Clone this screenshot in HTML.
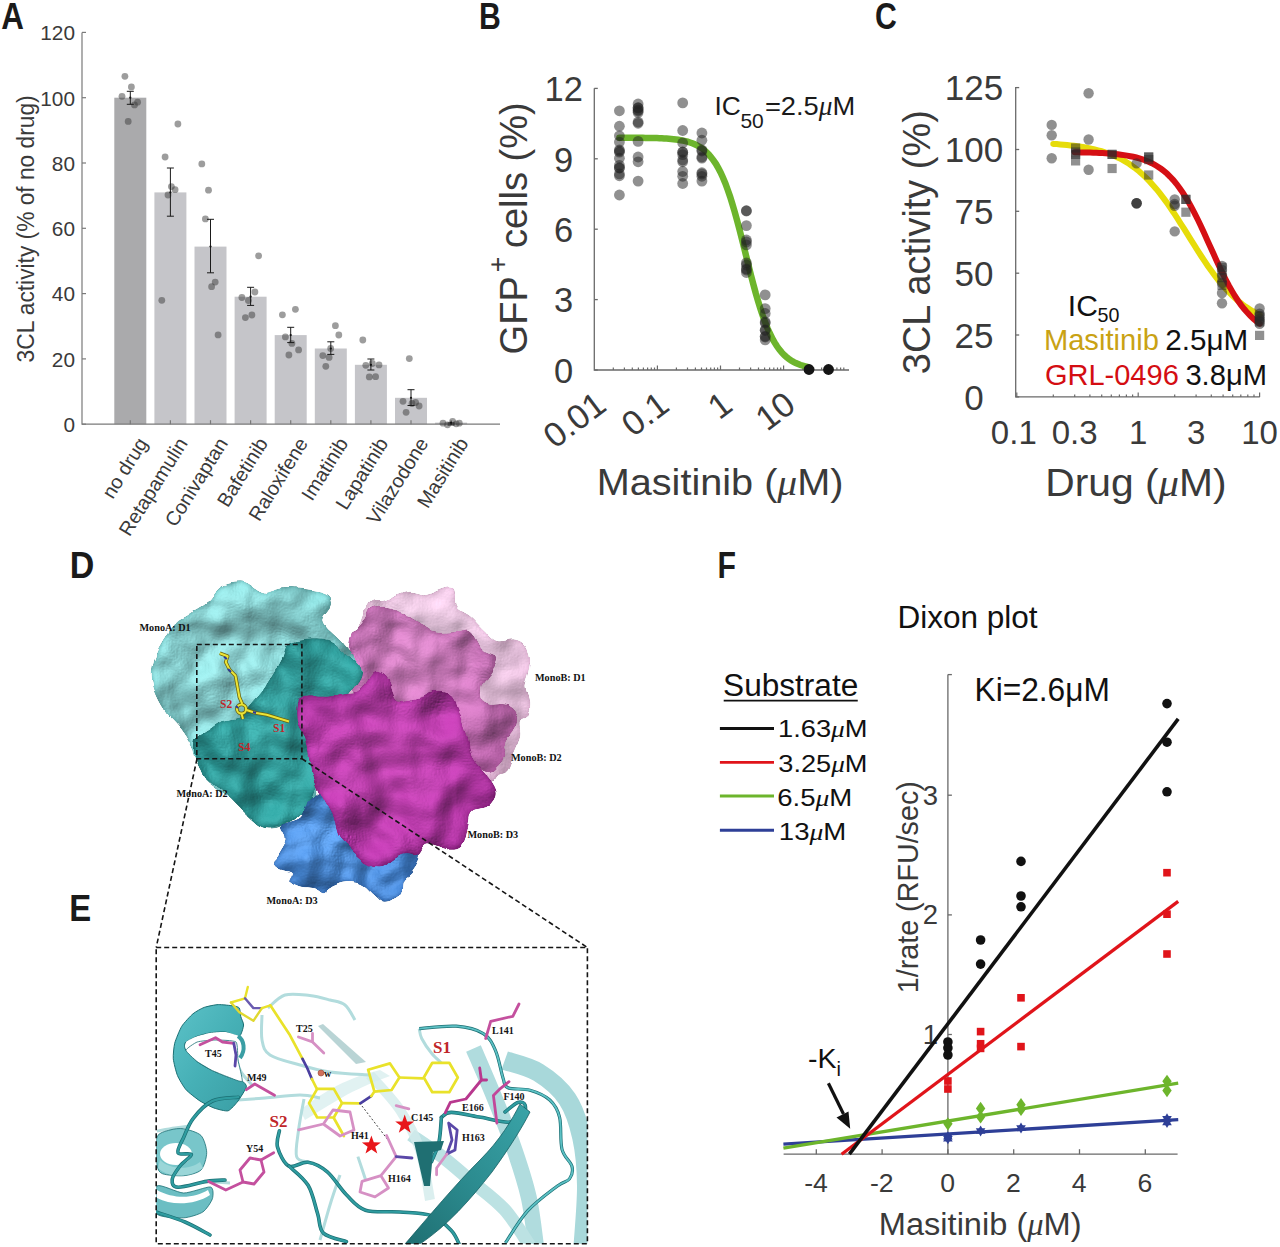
<!DOCTYPE html>
<html><head><meta charset="utf-8"><style>
html,body{margin:0;padding:0;background:#fff;width:1280px;height:1247px;overflow:hidden}
svg{display:block;font-family:"Liberation Sans",sans-serif}
</style></head><body>
<svg width="1280" height="1247" viewBox="0 0 1280 1247">
<rect x="114.3" y="97.7" width="32" height="326.5" fill="#aaaaac"/>
<rect x="154.4" y="192.4" width="32" height="231.8" fill="#c5c5c9"/>
<rect x="194.5" y="246.6" width="32" height="177.6" fill="#c5c5c9"/>
<rect x="234.6" y="296.7" width="32" height="127.5" fill="#c5c5c9"/>
<rect x="274.7" y="335.1" width="32" height="89.1" fill="#c5c5c9"/>
<rect x="314.8" y="348.5" width="32" height="75.7" fill="#c5c5c9"/>
<rect x="354.9" y="364.8" width="32" height="59.4" fill="#c5c5c9"/>
<rect x="395.0" y="397.8" width="32" height="26.4" fill="#c5c5c9"/>
<rect x="435.1" y="422.6" width="32" height="1.6" fill="#c5c5c9"/>
<path d="M82,32.5 V424.2 H500" stroke="#7a7a7a" stroke-width="1.2" fill="none"/>
<path d="M82,424.2 H86" stroke="#7a7a7a" stroke-width="1.2"/>
<text x="75" y="432.0" text-anchor="end" font-size="20.8" fill="#3a3a3a">0</text>
<path d="M82,358.9 H86" stroke="#7a7a7a" stroke-width="1.2"/>
<text x="75" y="366.7" text-anchor="end" font-size="20.8" fill="#3a3a3a">20</text>
<path d="M82,293.6 H86" stroke="#7a7a7a" stroke-width="1.2"/>
<text x="75" y="301.4" text-anchor="end" font-size="20.8" fill="#3a3a3a">40</text>
<path d="M82,228.3 H86" stroke="#7a7a7a" stroke-width="1.2"/>
<text x="75" y="236.1" text-anchor="end" font-size="20.8" fill="#3a3a3a">60</text>
<path d="M82,163.0 H86" stroke="#7a7a7a" stroke-width="1.2"/>
<text x="75" y="170.8" text-anchor="end" font-size="20.8" fill="#3a3a3a">80</text>
<path d="M82,97.7 H86" stroke="#7a7a7a" stroke-width="1.2"/>
<text x="75" y="105.5" text-anchor="end" font-size="20.8" fill="#3a3a3a">100</text>
<path d="M82,32.4 H86" stroke="#7a7a7a" stroke-width="1.2"/>
<text x="75" y="40.2" text-anchor="end" font-size="20.8" fill="#3a3a3a">120</text>
<path d="M130.3,424.2 V420.2" stroke="#7a7a7a" stroke-width="1.2"/>
<path d="M170.4,424.2 V420.2" stroke="#7a7a7a" stroke-width="1.2"/>
<path d="M210.5,424.2 V420.2" stroke="#7a7a7a" stroke-width="1.2"/>
<path d="M250.6,424.2 V420.2" stroke="#7a7a7a" stroke-width="1.2"/>
<path d="M290.7,424.2 V420.2" stroke="#7a7a7a" stroke-width="1.2"/>
<path d="M330.8,424.2 V420.2" stroke="#7a7a7a" stroke-width="1.2"/>
<path d="M370.9,424.2 V420.2" stroke="#7a7a7a" stroke-width="1.2"/>
<path d="M411.0,424.2 V420.2" stroke="#7a7a7a" stroke-width="1.2"/>
<path d="M451.1,424.2 V420.2" stroke="#7a7a7a" stroke-width="1.2"/>
<circle cx="124.9" cy="76.3" r="3.4" fill="#3c3c3c" fill-opacity="0.5"/>
<circle cx="131.4" cy="86.9" r="3.4" fill="#3c3c3c" fill-opacity="0.5"/>
<circle cx="122" cy="96.3" r="3.4" fill="#3c3c3c" fill-opacity="0.5"/>
<circle cx="137.6" cy="102.2" r="3.4" fill="#3c3c3c" fill-opacity="0.5"/>
<circle cx="134.5" cy="104.9" r="3.4" fill="#3c3c3c" fill-opacity="0.5"/>
<circle cx="128.2" cy="121.4" r="3.4" fill="#3c3c3c" fill-opacity="0.5"/>
<circle cx="177.9" cy="124" r="3.4" fill="#3c3c3c" fill-opacity="0.5"/>
<circle cx="165.1" cy="157" r="3.4" fill="#3c3c3c" fill-opacity="0.5"/>
<circle cx="171.4" cy="186.6" r="3.4" fill="#3c3c3c" fill-opacity="0.5"/>
<circle cx="175.1" cy="189.7" r="3.4" fill="#3c3c3c" fill-opacity="0.5"/>
<circle cx="168" cy="195" r="3.4" fill="#3c3c3c" fill-opacity="0.5"/>
<circle cx="161.8" cy="300.3" r="3.4" fill="#3c3c3c" fill-opacity="0.5"/>
<circle cx="201.8" cy="163.9" r="3.4" fill="#3c3c3c" fill-opacity="0.5"/>
<circle cx="208.5" cy="190.2" r="3.4" fill="#3c3c3c" fill-opacity="0.5"/>
<circle cx="205.4" cy="218.9" r="3.4" fill="#3c3c3c" fill-opacity="0.5"/>
<circle cx="215.2" cy="282.1" r="3.4" fill="#3c3c3c" fill-opacity="0.5"/>
<circle cx="211.6" cy="286.7" r="3.4" fill="#3c3c3c" fill-opacity="0.5"/>
<circle cx="218.1" cy="334.9" r="3.4" fill="#3c3c3c" fill-opacity="0.5"/>
<circle cx="258.6" cy="255.8" r="3.4" fill="#3c3c3c" fill-opacity="0.5"/>
<circle cx="254.9" cy="292" r="3.4" fill="#3c3c3c" fill-opacity="0.5"/>
<circle cx="241.9" cy="297.5" r="3.4" fill="#3c3c3c" fill-opacity="0.5"/>
<circle cx="248.4" cy="300.5" r="3.4" fill="#3c3c3c" fill-opacity="0.5"/>
<circle cx="245.4" cy="317.6" r="3.4" fill="#3c3c3c" fill-opacity="0.5"/>
<circle cx="251.9" cy="315" r="3.4" fill="#3c3c3c" fill-opacity="0.5"/>
<circle cx="282.4" cy="314.8" r="3.4" fill="#3c3c3c" fill-opacity="0.5"/>
<circle cx="295.4" cy="309.3" r="3.4" fill="#3c3c3c" fill-opacity="0.5"/>
<circle cx="285.4" cy="336.9" r="3.4" fill="#3c3c3c" fill-opacity="0.5"/>
<circle cx="291.9" cy="343.4" r="3.4" fill="#3c3c3c" fill-opacity="0.5"/>
<circle cx="298.6" cy="349.9" r="3.4" fill="#3c3c3c" fill-opacity="0.5"/>
<circle cx="288.9" cy="355" r="3.4" fill="#3c3c3c" fill-opacity="0.5"/>
<circle cx="335.4" cy="325.7" r="3.4" fill="#3c3c3c" fill-opacity="0.5"/>
<circle cx="338.8" cy="335" r="3.4" fill="#3c3c3c" fill-opacity="0.5"/>
<circle cx="330.7" cy="348.5" r="3.4" fill="#3c3c3c" fill-opacity="0.5"/>
<circle cx="322.8" cy="355.6" r="3.4" fill="#3c3c3c" fill-opacity="0.5"/>
<circle cx="329.1" cy="357.4" r="3.4" fill="#3c3c3c" fill-opacity="0.5"/>
<circle cx="325.8" cy="366.3" r="3.4" fill="#3c3c3c" fill-opacity="0.5"/>
<circle cx="362.8" cy="340" r="3.4" fill="#3c3c3c" fill-opacity="0.5"/>
<circle cx="365.8" cy="365.3" r="3.4" fill="#3c3c3c" fill-opacity="0.5"/>
<circle cx="372.3" cy="363.5" r="3.4" fill="#3c3c3c" fill-opacity="0.5"/>
<circle cx="379" cy="364.9" r="3.4" fill="#3c3c3c" fill-opacity="0.5"/>
<circle cx="369.3" cy="376.9" r="3.4" fill="#3c3c3c" fill-opacity="0.5"/>
<circle cx="375.6" cy="376.7" r="3.4" fill="#3c3c3c" fill-opacity="0.5"/>
<circle cx="409.3" cy="358.6" r="3.4" fill="#3c3c3c" fill-opacity="0.5"/>
<circle cx="403" cy="401.3" r="3.4" fill="#3c3c3c" fill-opacity="0.5"/>
<circle cx="415.6" cy="402.5" r="3.4" fill="#3c3c3c" fill-opacity="0.5"/>
<circle cx="419.1" cy="406" r="3.4" fill="#3c3c3c" fill-opacity="0.5"/>
<circle cx="406.1" cy="412.3" r="3.4" fill="#3c3c3c" fill-opacity="0.5"/>
<circle cx="412" cy="403.5" r="3.4" fill="#3c3c3c" fill-opacity="0.5"/>
<circle cx="443" cy="423.2" r="3.4" fill="#3c3c3c" fill-opacity="0.5"/>
<circle cx="447.5" cy="424.8" r="3.4" fill="#3c3c3c" fill-opacity="0.5"/>
<circle cx="452.6" cy="421.4" r="3.4" fill="#3c3c3c" fill-opacity="0.5"/>
<circle cx="456.2" cy="423.8" r="3.4" fill="#3c3c3c" fill-opacity="0.5"/>
<circle cx="459.3" cy="423.2" r="3.4" fill="#3c3c3c" fill-opacity="0.5"/>
<path d="M130.3,91.3 V104.3 M126.8,91.3 H133.8 M126.8,104.3 H133.8" stroke="#1a1a1a" stroke-width="1"/>
<circle cx="130.3" cy="97.7" r="1.1" fill="#111"/>
<path d="M170.4,168 V216.2 M166.9,168 H173.9 M166.9,216.2 H173.9" stroke="#1a1a1a" stroke-width="1"/>
<circle cx="170.4" cy="192.4" r="1.1" fill="#111"/>
<path d="M210.5,219.3 V272.8 M207.0,219.3 H214.0 M207.0,272.8 H214.0" stroke="#1a1a1a" stroke-width="1"/>
<circle cx="210.5" cy="246.6" r="1.1" fill="#111"/>
<path d="M250.6,287.3 V305.4 M247.1,287.3 H254.1 M247.1,305.4 H254.1" stroke="#1a1a1a" stroke-width="1"/>
<circle cx="250.6" cy="296.7" r="1.1" fill="#111"/>
<path d="M290.7,327.3 V342.6 M287.2,327.3 H294.2 M287.2,342.6 H294.2" stroke="#1a1a1a" stroke-width="1"/>
<circle cx="290.7" cy="335.1" r="1.1" fill="#111"/>
<path d="M330.8,341.8 V354.4 M327.3,341.8 H334.3 M327.3,354.4 H334.3" stroke="#1a1a1a" stroke-width="1"/>
<circle cx="330.8" cy="348.5" r="1.1" fill="#111"/>
<path d="M370.9,359 V370 M367.4,359 H374.4 M367.4,370 H374.4" stroke="#1a1a1a" stroke-width="1"/>
<circle cx="370.9" cy="364.8" r="1.1" fill="#111"/>
<path d="M411.0,389.7 V405.5 M407.5,389.7 H414.5 M407.5,405.5 H414.5" stroke="#1a1a1a" stroke-width="1"/>
<circle cx="411.0" cy="397.8" r="1.1" fill="#111"/>
<path d="M451.1,423 V425 M447.6,423 H454.6 M447.6,425 H454.6" stroke="#1a1a1a" stroke-width="1"/>
<circle cx="451.1" cy="422.6" r="1.1" fill="#111"/>
<text transform="translate(148.3,443.2) rotate(-58)" text-anchor="end" font-size="19.8" fill="#3a3a3a">no drug</text>
<text transform="translate(188.4,443.2) rotate(-58)" text-anchor="end" font-size="19.8" fill="#3a3a3a">Retapamulin</text>
<text transform="translate(228.5,443.2) rotate(-58)" text-anchor="end" font-size="19.8" fill="#3a3a3a">Conivaptan</text>
<text transform="translate(268.6,443.2) rotate(-58)" text-anchor="end" font-size="19.8" fill="#3a3a3a">Bafetinib</text>
<text transform="translate(308.7,443.2) rotate(-58)" text-anchor="end" font-size="19.8" fill="#3a3a3a">Raloxifene</text>
<text transform="translate(348.8,443.2) rotate(-58)" text-anchor="end" font-size="19.8" fill="#3a3a3a">Imatinib</text>
<text transform="translate(388.9,443.2) rotate(-58)" text-anchor="end" font-size="19.8" fill="#3a3a3a">Lapatinib</text>
<text transform="translate(429.0,443.2) rotate(-58)" text-anchor="end" font-size="19.8" fill="#3a3a3a">Vilazodone</text>
<text transform="translate(469.1,443.2) rotate(-58)" text-anchor="end" font-size="19.8" fill="#3a3a3a">Masitinib</text>
<text transform="translate(34.2,228.9) rotate(-90)" text-anchor="middle" font-size="23.3" textLength="267" lengthAdjust="spacingAndGlyphs" fill="#3a3a3a">3CL activity (% of no drug)</text>
<text transform="translate(1.2,29.4) scale(0.86,1)" font-size="36.5" font-weight="bold" fill="#1a1a1a">A</text>
<path d="M594.3,88.2 V370.0 H849" stroke="#6a6a6a" stroke-width="1.3" fill="none"/>
<path d="M594.3,370.0 h3.5" stroke="#6a6a6a" stroke-width="1.3"/>
<text x="563.7" y="382.8" text-anchor="middle" font-size="34.5" fill="#3a3a3a">0</text>
<path d="M594.3,299.6 h3.5" stroke="#6a6a6a" stroke-width="1.3"/>
<text x="563.7" y="312.4" text-anchor="middle" font-size="34.5" fill="#3a3a3a">3</text>
<path d="M594.3,229.2 h3.5" stroke="#6a6a6a" stroke-width="1.3"/>
<text x="563.7" y="242.0" text-anchor="middle" font-size="34.5" fill="#3a3a3a">6</text>
<path d="M594.3,158.8 h3.5" stroke="#6a6a6a" stroke-width="1.3"/>
<text x="563.7" y="171.6" text-anchor="middle" font-size="34.5" fill="#3a3a3a">9</text>
<path d="M594.3,88.4 h3.5" stroke="#6a6a6a" stroke-width="1.3"/>
<text x="563.7" y="101.2" text-anchor="middle" font-size="34.5" fill="#3a3a3a">12</text>
<path d="M613.3,370.0 v-2.5" stroke="#6a6a6a" stroke-width="1.2"/>
<path d="M624.4,370.0 v-2.5" stroke="#6a6a6a" stroke-width="1.2"/>
<path d="M632.3,370.0 v-2.5" stroke="#6a6a6a" stroke-width="1.2"/>
<path d="M638.4,370.0 v-2.5" stroke="#6a6a6a" stroke-width="1.2"/>
<path d="M643.4,370.0 v-2.5" stroke="#6a6a6a" stroke-width="1.2"/>
<path d="M647.6,370.0 v-2.5" stroke="#6a6a6a" stroke-width="1.2"/>
<path d="M651.3,370.0 v-2.5" stroke="#6a6a6a" stroke-width="1.2"/>
<path d="M654.5,370.0 v-2.5" stroke="#6a6a6a" stroke-width="1.2"/>
<path d="M657.4,370.0 v-4.5" stroke="#6a6a6a" stroke-width="1.2"/>
<path d="M676.4,370.0 v-2.5" stroke="#6a6a6a" stroke-width="1.2"/>
<path d="M687.5,370.0 v-2.5" stroke="#6a6a6a" stroke-width="1.2"/>
<path d="M695.4,370.0 v-2.5" stroke="#6a6a6a" stroke-width="1.2"/>
<path d="M701.5,370.0 v-2.5" stroke="#6a6a6a" stroke-width="1.2"/>
<path d="M706.5,370.0 v-2.5" stroke="#6a6a6a" stroke-width="1.2"/>
<path d="M710.7,370.0 v-2.5" stroke="#6a6a6a" stroke-width="1.2"/>
<path d="M714.4,370.0 v-2.5" stroke="#6a6a6a" stroke-width="1.2"/>
<path d="M717.6,370.0 v-2.5" stroke="#6a6a6a" stroke-width="1.2"/>
<path d="M720.5,370.0 v-4.5" stroke="#6a6a6a" stroke-width="1.2"/>
<path d="M739.5,370.0 v-2.5" stroke="#6a6a6a" stroke-width="1.2"/>
<path d="M750.6,370.0 v-2.5" stroke="#6a6a6a" stroke-width="1.2"/>
<path d="M758.5,370.0 v-2.5" stroke="#6a6a6a" stroke-width="1.2"/>
<path d="M764.6,370.0 v-2.5" stroke="#6a6a6a" stroke-width="1.2"/>
<path d="M769.6,370.0 v-2.5" stroke="#6a6a6a" stroke-width="1.2"/>
<path d="M773.8,370.0 v-2.5" stroke="#6a6a6a" stroke-width="1.2"/>
<path d="M777.5,370.0 v-2.5" stroke="#6a6a6a" stroke-width="1.2"/>
<path d="M780.7,370.0 v-2.5" stroke="#6a6a6a" stroke-width="1.2"/>
<path d="M783.6,370.0 v-4.5" stroke="#6a6a6a" stroke-width="1.2"/>
<path d="M802.6,370.0 v-2.5" stroke="#6a6a6a" stroke-width="1.2"/>
<path d="M813.7,370.0 v-2.5" stroke="#6a6a6a" stroke-width="1.2"/>
<path d="M821.6,370.0 v-2.5" stroke="#6a6a6a" stroke-width="1.2"/>
<path d="M827.7,370.0 v-2.5" stroke="#6a6a6a" stroke-width="1.2"/>
<path d="M832.7,370.0 v-2.5" stroke="#6a6a6a" stroke-width="1.2"/>
<path d="M836.9,370.0 v-2.5" stroke="#6a6a6a" stroke-width="1.2"/>
<path d="M840.6,370.0 v-2.5" stroke="#6a6a6a" stroke-width="1.2"/>
<path d="M843.8,370.0 v-2.5" stroke="#6a6a6a" stroke-width="1.2"/>
<text transform="translate(608.3,409.0) rotate(-37)" text-anchor="end" font-size="34.5" fill="#3a3a3a">0.01</text>
<text transform="translate(671.4,409.0) rotate(-37)" text-anchor="end" font-size="34.5" fill="#3a3a3a">0.1</text>
<text transform="translate(734.5,409.0) rotate(-37)" text-anchor="end" font-size="34.5" fill="#3a3a3a">1</text>
<text transform="translate(797.6,409.0) rotate(-37)" text-anchor="end" font-size="34.5" fill="#3a3a3a">10</text>
<polyline points="619.4,137.7 621.8,137.7 624.1,137.7 626.5,137.7 628.8,137.7 631.2,137.7 633.5,137.7 635.9,137.8 638.2,137.8 640.6,137.8 642.9,137.8 645.3,137.9 647.6,137.9 650.0,138.0 652.3,138.0 654.7,138.1 657.0,138.1 659.4,138.2 661.8,138.3 664.1,138.5 666.5,138.6 668.8,138.8 671.2,139.0 673.5,139.2 675.9,139.5 678.2,139.8 680.6,140.2 682.9,140.6 685.3,141.1 687.6,141.7 690.0,142.5 692.3,143.3 694.7,144.3 697.0,145.4 699.4,146.7 701.7,148.2 704.1,150.0 706.4,152.1 708.8,154.4 711.1,157.2 713.5,160.3 715.9,163.8 718.2,167.9 720.6,172.4 722.9,177.5 725.3,183.2 727.6,189.5 730.0,196.3 732.3,203.8 734.7,211.8 737.0,220.2 739.4,229.1 741.7,238.3 744.1,247.7 746.4,257.1 748.8,266.6 751.1,275.8 753.5,284.8 755.8,293.4 758.2,301.5 760.5,309.1 762.9,316.2 765.3,322.6 767.6,328.5 770.0,333.7 772.3,338.5 774.7,342.6 777.0,346.3 779.4,349.6 781.7,352.4 784.1,354.9 786.4,357.0 788.8,358.9 791.1,360.5 793.5,361.9 795.8,363.1 798.2,364.1 800.5,365.0 802.9,365.7 805.2,366.3 807.6,366.9" fill="none" stroke="#6db52c" stroke-width="6.5" stroke-linecap="round"/>
<circle cx="619.4" cy="110.8" r="5.4" fill="#222" fill-opacity="0.5"/>
<circle cx="619.4" cy="126.2" r="5.4" fill="#222" fill-opacity="0.5"/>
<circle cx="619.4" cy="135.8" r="5.4" fill="#222" fill-opacity="0.5"/>
<circle cx="619.4" cy="142.1" r="5.4" fill="#222" fill-opacity="0.5"/>
<circle cx="619.4" cy="151" r="5.4" fill="#222" fill-opacity="0.5"/>
<circle cx="619.4" cy="152.2" r="5.4" fill="#222" fill-opacity="0.5"/>
<circle cx="619.4" cy="158.2" r="5.4" fill="#222" fill-opacity="0.5"/>
<circle cx="619.4" cy="165.4" r="5.4" fill="#222" fill-opacity="0.5"/>
<circle cx="619.4" cy="167.8" r="5.4" fill="#222" fill-opacity="0.5"/>
<circle cx="619.4" cy="173.9" r="5.4" fill="#222" fill-opacity="0.5"/>
<circle cx="619.4" cy="175.8" r="5.4" fill="#222" fill-opacity="0.5"/>
<circle cx="619.4" cy="195" r="5.4" fill="#222" fill-opacity="0.5"/>
<circle cx="619.4" cy="150" r="5.4" fill="#222" fill-opacity="0.5"/>
<circle cx="619.4" cy="168" r="5.4" fill="#222" fill-opacity="0.5"/>
<circle cx="638.1" cy="104" r="5.4" fill="#222" fill-opacity="0.5"/>
<circle cx="638.1" cy="107.7" r="5.4" fill="#222" fill-opacity="0.5"/>
<circle cx="638.1" cy="110" r="5.4" fill="#222" fill-opacity="0.5"/>
<circle cx="638.1" cy="112.5" r="5.4" fill="#222" fill-opacity="0.5"/>
<circle cx="638.1" cy="123.3" r="5.4" fill="#222" fill-opacity="0.5"/>
<circle cx="638.1" cy="141.4" r="5.4" fill="#222" fill-opacity="0.5"/>
<circle cx="638.1" cy="157" r="5.4" fill="#222" fill-opacity="0.5"/>
<circle cx="638.1" cy="161.8" r="5.4" fill="#222" fill-opacity="0.5"/>
<circle cx="638.1" cy="181.1" r="5.4" fill="#222" fill-opacity="0.5"/>
<circle cx="638.1" cy="108" r="5.4" fill="#222" fill-opacity="0.5"/>
<circle cx="638.1" cy="111" r="5.4" fill="#222" fill-opacity="0.5"/>
<circle cx="638.1" cy="122" r="5.4" fill="#222" fill-opacity="0.5"/>
<circle cx="682.7" cy="102.9" r="5.4" fill="#222" fill-opacity="0.5"/>
<circle cx="682.7" cy="130.5" r="5.4" fill="#222" fill-opacity="0.5"/>
<circle cx="682.7" cy="143" r="5.4" fill="#222" fill-opacity="0.5"/>
<circle cx="682.7" cy="152.2" r="5.4" fill="#222" fill-opacity="0.5"/>
<circle cx="682.7" cy="154.6" r="5.4" fill="#222" fill-opacity="0.5"/>
<circle cx="682.7" cy="161.8" r="5.4" fill="#222" fill-opacity="0.5"/>
<circle cx="682.7" cy="171.5" r="5.4" fill="#222" fill-opacity="0.5"/>
<circle cx="682.7" cy="176.3" r="5.4" fill="#222" fill-opacity="0.5"/>
<circle cx="682.7" cy="183.5" r="5.4" fill="#222" fill-opacity="0.5"/>
<circle cx="682.7" cy="152" r="5.4" fill="#222" fill-opacity="0.5"/>
<circle cx="682.7" cy="160" r="5.4" fill="#222" fill-opacity="0.5"/>
<circle cx="701.9" cy="133" r="5.4" fill="#222" fill-opacity="0.5"/>
<circle cx="701.9" cy="140.2" r="5.4" fill="#222" fill-opacity="0.5"/>
<circle cx="701.9" cy="151" r="5.4" fill="#222" fill-opacity="0.5"/>
<circle cx="701.9" cy="158.2" r="5.4" fill="#222" fill-opacity="0.5"/>
<circle cx="701.9" cy="172.7" r="5.4" fill="#222" fill-opacity="0.5"/>
<circle cx="701.9" cy="176.3" r="5.4" fill="#222" fill-opacity="0.5"/>
<circle cx="701.9" cy="181.1" r="5.4" fill="#222" fill-opacity="0.5"/>
<circle cx="701.9" cy="150" r="5.4" fill="#222" fill-opacity="0.5"/>
<circle cx="701.9" cy="157" r="5.4" fill="#222" fill-opacity="0.5"/>
<circle cx="701.9" cy="174" r="5.4" fill="#222" fill-opacity="0.5"/>
<circle cx="746.4" cy="210.7" r="5.4" fill="#222" fill-opacity="0.5"/>
<circle cx="746.4" cy="225.6" r="5.4" fill="#222" fill-opacity="0.5"/>
<circle cx="746.4" cy="240" r="5.4" fill="#222" fill-opacity="0.5"/>
<circle cx="746.4" cy="244.9" r="5.4" fill="#222" fill-opacity="0.5"/>
<circle cx="746.4" cy="262.9" r="5.4" fill="#222" fill-opacity="0.5"/>
<circle cx="746.4" cy="268.9" r="5.4" fill="#222" fill-opacity="0.5"/>
<circle cx="746.4" cy="272.5" r="5.4" fill="#222" fill-opacity="0.5"/>
<circle cx="746.4" cy="211" r="5.4" fill="#222" fill-opacity="0.5"/>
<circle cx="746.4" cy="242" r="5.4" fill="#222" fill-opacity="0.5"/>
<circle cx="746.4" cy="265" r="5.4" fill="#222" fill-opacity="0.5"/>
<circle cx="746.4" cy="270" r="5.4" fill="#222" fill-opacity="0.5"/>
<circle cx="765.2" cy="294.9" r="5.4" fill="#222" fill-opacity="0.5"/>
<circle cx="765.2" cy="308.6" r="5.4" fill="#222" fill-opacity="0.5"/>
<circle cx="765.2" cy="313.5" r="5.4" fill="#222" fill-opacity="0.5"/>
<circle cx="765.2" cy="323" r="5.4" fill="#222" fill-opacity="0.5"/>
<circle cx="765.2" cy="330.3" r="5.4" fill="#222" fill-opacity="0.5"/>
<circle cx="765.2" cy="336.3" r="5.4" fill="#222" fill-opacity="0.5"/>
<circle cx="765.2" cy="339.9" r="5.4" fill="#222" fill-opacity="0.5"/>
<circle cx="765.2" cy="322" r="5.4" fill="#222" fill-opacity="0.5"/>
<circle cx="765.2" cy="330" r="5.4" fill="#222" fill-opacity="0.5"/>
<circle cx="765.2" cy="337" r="5.4" fill="#222" fill-opacity="0.5"/>
<circle cx="809" cy="369.5" r="5.4" fill="#151515"/>
<circle cx="828.5" cy="369.5" r="5.4" fill="#151515"/>
<text x="714.5" y="115.0" font-size="26.4" fill="#1a1a1a">IC</text>
<text x="740.4" y="128.1" font-size="21" fill="#1a1a1a">50</text>
<text x="764.9" y="115.0" font-size="26.4" textLength="90.4" lengthAdjust="spacingAndGlyphs" fill="#1a1a1a">=2.5<tspan font-family="Liberation Serif" font-style="italic">μ</tspan>M</text>
<text transform="translate(527.2,228.4) rotate(-90)" text-anchor="middle" font-size="38.5" textLength="252" lengthAdjust="spacingAndGlyphs" fill="#3a3a3a">GFP<tspan font-size="27" dx="4" dy="-20.5">+</tspan><tspan dx="-2" dy="20.5"> cells (%)</tspan></text>
<text x="596.7" y="494.7" font-size="36.4" textLength="246.8" lengthAdjust="spacingAndGlyphs" fill="#3a3a3a">Masitinib (<tspan font-family="Liberation Serif" font-style="italic">μ</tspan>M)</text>
<text transform="translate(479,29.1) scale(0.8,1)" font-size="37.8" font-weight="bold" fill="#1a1a1a">B</text>
<path d="M1015.7,87 V396.9 H1259.8" stroke="#6a6a6a" stroke-width="1.3" fill="none"/>
<path d="M1015.7,396.9 h3.5" stroke="#6a6a6a" stroke-width="1.3"/>
<text x="974" y="409.7" text-anchor="middle" font-size="35" fill="#3a3a3a">0</text>
<path d="M1015.7,335.0 h3.5" stroke="#6a6a6a" stroke-width="1.3"/>
<text x="974" y="347.8" text-anchor="middle" font-size="35" fill="#3a3a3a">25</text>
<path d="M1015.7,273.2 h3.5" stroke="#6a6a6a" stroke-width="1.3"/>
<text x="974" y="286.0" text-anchor="middle" font-size="35" fill="#3a3a3a">50</text>
<path d="M1015.7,211.3 h3.5" stroke="#6a6a6a" stroke-width="1.3"/>
<text x="974" y="224.1" text-anchor="middle" font-size="35" fill="#3a3a3a">75</text>
<path d="M1015.7,149.5 h3.5" stroke="#6a6a6a" stroke-width="1.3"/>
<text x="974" y="162.3" text-anchor="middle" font-size="35" fill="#3a3a3a">100</text>
<path d="M1015.7,87.6 h3.5" stroke="#6a6a6a" stroke-width="1.3"/>
<text x="974" y="100.4" text-anchor="middle" font-size="35" fill="#3a3a3a">125</text>
<path d="M1016.8,396.9 v-4.5" stroke="#6a6a6a" stroke-width="1.2"/>
<path d="M1053.3,396.9 v-2.5" stroke="#6a6a6a" stroke-width="1.2"/>
<path d="M1074.7,396.9 v-2.5" stroke="#6a6a6a" stroke-width="1.2"/>
<path d="M1089.9,396.9 v-2.5" stroke="#6a6a6a" stroke-width="1.2"/>
<path d="M1101.7,396.9 v-2.5" stroke="#6a6a6a" stroke-width="1.2"/>
<path d="M1111.3,396.9 v-2.5" stroke="#6a6a6a" stroke-width="1.2"/>
<path d="M1119.4,396.9 v-2.5" stroke="#6a6a6a" stroke-width="1.2"/>
<path d="M1126.4,396.9 v-2.5" stroke="#6a6a6a" stroke-width="1.2"/>
<path d="M1132.6,396.9 v-2.5" stroke="#6a6a6a" stroke-width="1.2"/>
<path d="M1138.2,396.9 v-4.5" stroke="#6a6a6a" stroke-width="1.2"/>
<path d="M1174.7,396.9 v-2.5" stroke="#6a6a6a" stroke-width="1.2"/>
<path d="M1196.1,396.9 v-2.5" stroke="#6a6a6a" stroke-width="1.2"/>
<path d="M1211.3,396.9 v-2.5" stroke="#6a6a6a" stroke-width="1.2"/>
<path d="M1223.1,396.9 v-2.5" stroke="#6a6a6a" stroke-width="1.2"/>
<path d="M1232.7,396.9 v-2.5" stroke="#6a6a6a" stroke-width="1.2"/>
<path d="M1240.8,396.9 v-2.5" stroke="#6a6a6a" stroke-width="1.2"/>
<path d="M1247.8,396.9 v-2.5" stroke="#6a6a6a" stroke-width="1.2"/>
<path d="M1254.0,396.9 v-2.5" stroke="#6a6a6a" stroke-width="1.2"/>
<path d="M1259.6,396.9 v-4.5" stroke="#6a6a6a" stroke-width="1.2"/>
<text x="1013.8" y="443.6" text-anchor="middle" font-size="33" fill="#3a3a3a">0.1</text>
<text x="1074.7" y="443.6" text-anchor="middle" font-size="33" fill="#3a3a3a">0.3</text>
<text x="1138.2" y="443.6" text-anchor="middle" font-size="33" fill="#3a3a3a">1</text>
<text x="1196.1" y="443.6" text-anchor="middle" font-size="33" fill="#3a3a3a">3</text>
<text x="1259.6" y="443.6" text-anchor="middle" font-size="33" fill="#3a3a3a">10</text>
<polyline points="1053.3,143.9 1056.8,144.1 1060.2,144.4 1063.7,144.7 1067.1,145.0 1070.5,145.4 1074.0,145.8 1077.4,146.2 1080.8,146.7 1084.3,147.3 1087.7,147.9 1091.2,148.6 1094.6,149.4 1098.0,150.3 1101.5,151.2 1104.9,152.3 1108.3,153.5 1111.8,154.8 1115.2,156.3 1118.7,157.9 1122.1,159.7 1125.5,161.7 1129.0,163.8 1132.4,166.2 1135.8,168.7 1139.3,171.5 1142.7,174.6 1146.2,177.9 1149.6,181.4 1153.0,185.2 1156.5,189.2 1159.9,193.4 1163.3,197.9 1166.8,202.6 1170.2,207.6 1173.7,212.7 1177.1,217.9 1180.5,223.3 1184.0,228.7 1187.4,234.2 1190.8,239.7 1194.3,245.2 1197.7,250.6 1201.2,256.0 1204.6,261.2 1208.0,266.2 1211.5,271.1 1214.9,275.7 1218.3,280.1 1221.8,284.3 1225.2,288.3 1228.7,292.0 1232.1,295.4 1235.5,298.6 1239.0,301.6 1242.4,304.3 1245.8,306.8 1249.3,309.1 1252.7,311.2 1256.2,313.1 1259.6,314.8" fill="none" stroke="#e6dc0a" stroke-width="6" stroke-linecap="round"/>
<polyline points="1074.7,152.3 1077.8,152.3 1080.9,152.4 1084.0,152.5 1087.0,152.5 1090.1,152.6 1093.2,152.7 1096.3,152.8 1099.4,153.0 1102.5,153.1 1105.5,153.3 1108.6,153.5 1111.7,153.7 1114.8,154.0 1117.9,154.3 1120.9,154.7 1124.0,155.1 1127.1,155.6 1130.2,156.2 1133.3,156.8 1136.3,157.5 1139.4,158.4 1142.5,159.4 1145.6,160.5 1148.7,161.7 1151.8,163.2 1154.8,164.8 1157.9,166.7 1161.0,168.8 1164.1,171.2 1167.2,173.8 1170.2,176.8 1173.3,180.1 1176.4,183.8 1179.5,187.9 1182.6,192.3 1185.6,197.1 1188.7,202.3 1191.8,207.9 1194.9,213.8 1198.0,220.0 1201.1,226.4 1204.1,233.1 1207.2,239.9 1210.3,246.8 1213.4,253.6 1216.5,260.4 1219.5,267.0 1222.6,273.4 1225.7,279.5 1228.8,285.4 1231.9,290.9 1234.9,296.0 1238.0,300.7 1241.1,305.1 1244.2,309.0 1247.3,312.6 1250.4,315.9 1253.4,318.8 1256.5,321.4 1259.6,323.7" fill="none" stroke="#d50f14" stroke-width="6" stroke-linecap="round"/>
<circle cx="1051.7" cy="124.9" r="5.2" fill="#2a2a2a" fill-opacity="0.52"/>
<circle cx="1051.7" cy="135.2" r="5.2" fill="#2a2a2a" fill-opacity="0.52"/>
<circle cx="1051.7" cy="158.3" r="5.2" fill="#2a2a2a" fill-opacity="0.52"/>
<circle cx="1088.6" cy="93.3" r="5.2" fill="#2a2a2a" fill-opacity="0.52"/>
<circle cx="1088.6" cy="139.5" r="5.2" fill="#2a2a2a" fill-opacity="0.52"/>
<circle cx="1088.6" cy="169.8" r="5.2" fill="#2a2a2a" fill-opacity="0.52"/>
<circle cx="1136.6" cy="163.4" r="5.2" fill="#2a2a2a" fill-opacity="0.52"/>
<circle cx="1136.6" cy="203.2" r="5.2" fill="#2a2a2a" fill-opacity="0.52"/>
<circle cx="1136.6" cy="203.2" r="5.2" fill="#2a2a2a" fill-opacity="0.52"/>
<circle cx="1136.6" cy="203.2" r="5.2" fill="#2a2a2a" fill-opacity="0.52"/>
<circle cx="1174.7" cy="199.4" r="5.2" fill="#2a2a2a" fill-opacity="0.52"/>
<circle cx="1174.7" cy="205.8" r="5.2" fill="#2a2a2a" fill-opacity="0.52"/>
<circle cx="1174.7" cy="231.4" r="5.2" fill="#2a2a2a" fill-opacity="0.52"/>
<circle cx="1174.7" cy="204" r="5.2" fill="#2a2a2a" fill-opacity="0.52"/>
<circle cx="1222.0" cy="266" r="5.2" fill="#2a2a2a" fill-opacity="0.52"/>
<circle cx="1222.0" cy="275" r="5.2" fill="#2a2a2a" fill-opacity="0.52"/>
<circle cx="1222.0" cy="283" r="5.2" fill="#2a2a2a" fill-opacity="0.52"/>
<circle cx="1222.0" cy="293" r="5.2" fill="#2a2a2a" fill-opacity="0.52"/>
<circle cx="1222.0" cy="303.3" r="5.2" fill="#2a2a2a" fill-opacity="0.52"/>
<circle cx="1222.0" cy="270" r="5.2" fill="#2a2a2a" fill-opacity="0.52"/>
<circle cx="1259.6" cy="308.4" r="5.2" fill="#2a2a2a" fill-opacity="0.52"/>
<circle cx="1259.6" cy="313.6" r="5.2" fill="#2a2a2a" fill-opacity="0.52"/>
<circle cx="1259.6" cy="321.3" r="5.2" fill="#2a2a2a" fill-opacity="0.52"/>
<circle cx="1259.6" cy="323.8" r="5.2" fill="#2a2a2a" fill-opacity="0.52"/>
<circle cx="1259.6" cy="316" r="5.2" fill="#2a2a2a" fill-opacity="0.52"/>
<circle cx="1259.6" cy="319" r="5.2" fill="#2a2a2a" fill-opacity="0.52"/>
<rect x="1071.0" y="143.4" width="9.2" height="9.2" fill="#2a2a2a" fill-opacity="0.52"/>
<rect x="1071.0" y="149.8" width="9.2" height="9.2" fill="#2a2a2a" fill-opacity="0.52"/>
<rect x="1071.0" y="156.3" width="9.2" height="9.2" fill="#2a2a2a" fill-opacity="0.52"/>
<rect x="1071.0" y="147.4" width="9.2" height="9.2" fill="#2a2a2a" fill-opacity="0.52"/>
<rect x="1107.5" y="149.8" width="9.2" height="9.2" fill="#2a2a2a" fill-opacity="0.52"/>
<rect x="1107.5" y="163.9" width="9.2" height="9.2" fill="#2a2a2a" fill-opacity="0.52"/>
<rect x="1107.5" y="149.8" width="9.2" height="9.2" fill="#2a2a2a" fill-opacity="0.52"/>
<rect x="1144.1" y="152.4" width="9.2" height="9.2" fill="#2a2a2a" fill-opacity="0.52"/>
<rect x="1144.1" y="155.0" width="9.2" height="9.2" fill="#2a2a2a" fill-opacity="0.52"/>
<rect x="1144.1" y="170.4" width="9.2" height="9.2" fill="#2a2a2a" fill-opacity="0.52"/>
<rect x="1144.1" y="152.4" width="9.2" height="9.2" fill="#2a2a2a" fill-opacity="0.52"/>
<rect x="1181.3" y="194.8" width="9.2" height="9.2" fill="#2a2a2a" fill-opacity="0.52"/>
<rect x="1181.3" y="207.6" width="9.2" height="9.2" fill="#2a2a2a" fill-opacity="0.52"/>
<rect x="1181.3" y="194.8" width="9.2" height="9.2" fill="#2a2a2a" fill-opacity="0.52"/>
<rect x="1217.4" y="262.79999999999995" width="9.2" height="9.2" fill="#2a2a2a" fill-opacity="0.52"/>
<rect x="1217.4" y="273.0" width="9.2" height="9.2" fill="#2a2a2a" fill-opacity="0.52"/>
<rect x="1217.4" y="280.7" width="9.2" height="9.2" fill="#2a2a2a" fill-opacity="0.52"/>
<rect x="1255.0" y="311.5" width="9.2" height="9.2" fill="#2a2a2a" fill-opacity="0.52"/>
<rect x="1255.0" y="317.4" width="9.2" height="9.2" fill="#2a2a2a" fill-opacity="0.52"/>
<rect x="1255.0" y="330.79999999999995" width="9.2" height="9.2" fill="#2a2a2a" fill-opacity="0.52"/>
<text x="1067.8" y="315.5" font-size="30" fill="#111">IC</text>
<text x="1097.6" y="321.8" font-size="21" textLength="21.9" lengthAdjust="spacingAndGlyphs" fill="#111">50</text>
<text x="1043.9" y="349.7" font-size="28.8" textLength="115.0" lengthAdjust="spacingAndGlyphs" fill="#c9a214">Masitinib</text>
<text x="1165.3" y="349.7" font-size="28.8" textLength="82.9" lengthAdjust="spacingAndGlyphs" fill="#111">2.5μM</text>
<text x="1044.9" y="384.7" font-size="28.8" textLength="133.9" lengthAdjust="spacingAndGlyphs" fill="#d40d12">GRL-0496</text>
<text x="1185.4" y="384.7" font-size="28.8" textLength="81.6" lengthAdjust="spacingAndGlyphs" fill="#111">3.8μM</text>
<text transform="translate(929.5,242.2) rotate(-90)" text-anchor="middle" font-size="38.5" textLength="264" lengthAdjust="spacingAndGlyphs" fill="#3a3a3a">3CL activity (%)</text>
<text x="1045.3" y="496.0" font-size="38.3" textLength="181.2" lengthAdjust="spacingAndGlyphs" fill="#3a3a3a">Drug (<tspan font-family="Liberation Serif" font-style="italic">μ</tspan>M)</text>
<text transform="translate(875,29.4) scale(0.8,1)" font-size="37.8" font-weight="bold" fill="#1a1a1a">C</text>
<path d="M947.9,674.6 V1154.2 M783.6,1154.2 H1177.6" stroke="#6a6a6a" stroke-width="1.3" fill="none"/>
<path d="M947.9,1034.5 h4" stroke="#6a6a6a" stroke-width="1.3"/>
<text x="938" y="1044.0" text-anchor="end" font-size="27.5" fill="#3a3a3a">1</text>
<path d="M947.9,914.9 h4" stroke="#6a6a6a" stroke-width="1.3"/>
<text x="938" y="924.4" text-anchor="end" font-size="27.5" fill="#3a3a3a">2</text>
<path d="M947.9,795.2 h4" stroke="#6a6a6a" stroke-width="1.3"/>
<text x="938" y="804.8" text-anchor="end" font-size="27.5" fill="#3a3a3a">3</text>
<path d="M947.9,674.6 h4" stroke="#6a6a6a" stroke-width="1.3"/>
<path d="M816.3,1154.2 v-5" stroke="#6a6a6a" stroke-width="1.3"/>
<text x="816.0" y="1192" text-anchor="middle" font-size="26.6" fill="#3a3a3a">-4</text>
<path d="M882.1,1154.2 v-5" stroke="#6a6a6a" stroke-width="1.3"/>
<text x="881.8" y="1192" text-anchor="middle" font-size="26.6" fill="#3a3a3a">-2</text>
<path d="M947.9,1154.2 v-5" stroke="#6a6a6a" stroke-width="1.3"/>
<text x="947.6" y="1192" text-anchor="middle" font-size="26.6" fill="#3a3a3a">0</text>
<path d="M1013.7,1154.2 v-5" stroke="#6a6a6a" stroke-width="1.3"/>
<text x="1013.4" y="1192" text-anchor="middle" font-size="26.6" fill="#3a3a3a">2</text>
<path d="M1079.5,1154.2 v-5" stroke="#6a6a6a" stroke-width="1.3"/>
<text x="1079.2" y="1192" text-anchor="middle" font-size="26.6" fill="#3a3a3a">4</text>
<path d="M1145.3,1154.2 v-5" stroke="#6a6a6a" stroke-width="1.3"/>
<text x="1145.0" y="1192" text-anchor="middle" font-size="26.6" fill="#3a3a3a">6</text>
<path d="M783.4,1144.1 L1178.2,1119.7" stroke="#2e3f97" stroke-width="3.3"/>
<path d="M783.4,1148.2 L1178.2,1083.1" stroke="#6db52c" stroke-width="3.3"/>
<path d="M841.6,1154.2 L1178.2,901.4" stroke="#e0141a" stroke-width="3.3"/>
<path d="M849.4,1154.2 L1178.2,718.9" stroke="#111111" stroke-width="3.6"/>
<circle cx="947.9" cy="1042" r="4.8" fill="#111"/>
<circle cx="947.9" cy="1048" r="4.8" fill="#111"/>
<circle cx="947.9" cy="1055" r="4.8" fill="#111"/>
<circle cx="980.6" cy="940" r="4.8" fill="#111"/>
<circle cx="980.6" cy="964.1" r="4.8" fill="#111"/>
<circle cx="1021" cy="861.4" r="4.8" fill="#111"/>
<circle cx="1021" cy="896" r="4.8" fill="#111"/>
<circle cx="1021" cy="906.8" r="4.8" fill="#111"/>
<circle cx="1167" cy="703.6" r="4.8" fill="#111"/>
<circle cx="1167" cy="742.2" r="4.8" fill="#111"/>
<circle cx="1167" cy="791.8" r="4.8" fill="#111"/>
<rect x="944.1" y="1077.2" width="7.6" height="7.6" fill="#e0141a"/>
<rect x="944.1" y="1085.2" width="7.6" height="7.6" fill="#e0141a"/>
<rect x="976.8000000000001" y="1027.8" width="7.6" height="7.6" fill="#e0141a"/>
<rect x="976.8000000000001" y="1039.95" width="7.6" height="7.6" fill="#e0141a"/>
<rect x="976.8000000000001" y="1044.6000000000001" width="7.6" height="7.6" fill="#e0141a"/>
<rect x="1017.2" y="994.0" width="7.6" height="7.6" fill="#e0141a"/>
<rect x="1017.2" y="1042.8" width="7.6" height="7.6" fill="#e0141a"/>
<rect x="1163.2" y="868.9000000000001" width="7.6" height="7.6" fill="#e0141a"/>
<rect x="1163.2" y="910.4000000000001" width="7.6" height="7.6" fill="#e0141a"/>
<rect x="1163.2" y="950.2" width="7.6" height="7.6" fill="#e0141a"/>
<path d="M947.9,1117.2 L952.6,1123.8 L947.9,1130.3999999999999 L943.1999999999999,1123.8 Z" fill="#6db52c"/>
<path d="M980.6,1101.8000000000002 L985.3000000000001,1108.4 L980.6,1115.0 L975.9,1108.4 Z" fill="#6db52c"/>
<path d="M980.6,1110.3000000000002 L985.3000000000001,1116.9 L980.6,1123.5 L975.9,1116.9 Z" fill="#6db52c"/>
<path d="M1021,1098.1000000000001 L1025.7,1104.7 L1021,1111.3 L1016.3,1104.7 Z" fill="#6db52c"/>
<path d="M1021,1102.8000000000002 L1025.7,1109.4 L1021,1116.0 L1016.3,1109.4 Z" fill="#6db52c"/>
<path d="M1167,1074.65 L1171.7,1081.25 L1167,1087.85 L1162.3,1081.25 Z" fill="#6db52c"/>
<path d="M1167,1084.0 L1171.7,1090.6 L1167,1097.1999999999998 L1162.3,1090.6 Z" fill="#6db52c"/>
<polygon points="947.9,1131.2 952.7,1139.5 943.1,1139.5" fill="#2e3f97"/><polygon points="952.7,1134.0 947.9,1142.2 943.1,1134.0" fill="#2e3f97"/>
<polygon points="947.9,1133.2 952.7,1141.5 943.1,1141.5" fill="#2e3f97"/><polygon points="952.7,1136.0 947.9,1144.2 943.1,1136.0" fill="#2e3f97"/>
<polygon points="980.6,1125.5 985.4,1133.8 975.8,1133.8" fill="#2e3f97"/><polygon points="985.4,1128.2 980.6,1136.5 975.8,1128.2" fill="#2e3f97"/>
<polygon points="1021.0,1122.5 1025.8,1130.8 1016.2,1130.8" fill="#2e3f97"/><polygon points="1025.8,1125.2 1021.0,1133.5 1016.2,1125.2" fill="#2e3f97"/>
<polygon points="1167.0,1113.2 1171.8,1121.5 1162.2,1121.5" fill="#2e3f97"/><polygon points="1171.8,1116.0 1167.0,1124.2 1162.2,1116.0" fill="#2e3f97"/>
<polygon points="1167.0,1117.0 1171.8,1125.2 1162.2,1125.2" fill="#2e3f97"/><polygon points="1171.8,1119.8 1167.0,1128.0 1162.2,1119.8" fill="#2e3f97"/>
<path d="M828.4,1083.2 L843.5,1114" stroke="#111" stroke-width="3.2"/>
<path d="M850.2,1128.8 L836.5,1117.5 L848.5,1111.5 Z" fill="#111"/>
<text x="808" y="1068.3" font-size="28.5" fill="#111">-K<tspan font-size="20" dy="8">i</tspan></text>
<text transform="translate(918,887.2) rotate(-90)" text-anchor="middle" font-size="29" textLength="212" lengthAdjust="spacingAndGlyphs" fill="#3a3a3a">1/rate (RFU/sec)</text>
<text x="878.8" y="1234.7" font-size="31" textLength="202.8" lengthAdjust="spacingAndGlyphs" fill="#3a3a3a">Masitinib (<tspan font-family="Liberation Serif" font-style="italic">μ</tspan>M)</text>
<text x="897.4" y="627.7" font-size="30.6" textLength="140.2" lengthAdjust="spacingAndGlyphs" fill="#111">Dixon plot</text>
<text x="974.5" y="701.4" font-size="33.2" textLength="135.4" lengthAdjust="spacingAndGlyphs" fill="#111">Ki=2.6μM</text>
<text x="723.1" y="695.8" font-size="31" textLength="135.2" lengthAdjust="spacingAndGlyphs" fill="#111">Substrate</text>
<path d="M723.7,700.6 H857.75" stroke="#111" stroke-width="1.7"/>
<path d="M719.9,728.5 H774" stroke="#111" stroke-width="2.9"/>
<text x="778.0" y="736.9" font-size="23.3" textLength="89.5" lengthAdjust="spacingAndGlyphs" fill="#111">1.63<tspan font-family="Liberation Serif" font-style="italic">μ</tspan>M</text>
<path d="M719.9,762.4 H774" stroke="#e0141a" stroke-width="2.9"/>
<text x="778.3" y="772.0" font-size="23.3" textLength="89.2" lengthAdjust="spacingAndGlyphs" fill="#111">3.25<tspan font-family="Liberation Serif" font-style="italic">μ</tspan>M</text>
<path d="M719.9,796 H774" stroke="#6db52c" stroke-width="2.9"/>
<text x="777.2" y="805.5" font-size="23.3" textLength="75.1" lengthAdjust="spacingAndGlyphs" fill="#111">6.5<tspan font-family="Liberation Serif" font-style="italic">μ</tspan>M</text>
<path d="M719.9,830.3 H774" stroke="#2e3f97" stroke-width="2.9"/>
<text x="778.8" y="839.8" font-size="23.3" textLength="67.5" lengthAdjust="spacingAndGlyphs" fill="#111">13<tspan font-family="Liberation Serif" font-style="italic">μ</tspan>M</text>
<text transform="translate(717.5,577.8) scale(0.8,1)" font-size="37.8" font-weight="bold" fill="#1a1a1a">F</text>
<defs>
<filter id="bCy" x="-5%" y="-5%" width="110%" height="110%" color-interpolation-filters="sRGB">
<feTurbulence type="fractalNoise" baseFrequency="0.045" numOctaves="1" seed="23" result="dn"/>
<feDisplacementMap in="SourceGraphic" in2="dn" scale="9" xChannelSelector="R" yChannelSelector="G" result="src"/>
<feColorMatrix in="src" type="matrix" values="0 0 0 0 0  0 0 0 0 0  0 0 0 0 0  0 0 0 1 0" result="srcA"/>
<feTurbulence type="fractalNoise" baseFrequency="0.024" numOctaves="2" seed="3" result="noise"/>
<feGaussianBlur in="noise" stdDeviation="1.4" result="nb"/>
<feColorMatrix in="nb" type="matrix" values="0 0 0 0 0  0 0 0 0 0  0 0 0 0 0  1 0 0 0 0" result="na"/>
<feSpecularLighting in="na" surfaceScale="10" specularConstant="0.6" specularExponent="25" lighting-color="#ffffff" result="spec"><feDistantLight azimuth="235" elevation="60"/></feSpecularLighting>
<feComposite in="spec" in2="srcA" operator="in" result="specin"/>
<feDiffuseLighting in="na" surfaceScale="10" diffuseConstant="1" lighting-color="#ffffff" result="light"><feDistantLight azimuth="235" elevation="60"/></feDiffuseLighting>
<feComposite in="src" in2="light" operator="arithmetic" k1="1.14" k2="0" k3="0" k4="0" result="lit"/>
<feComposite in="lit" in2="srcA" operator="in" result="lit2"/>
<feGaussianBlur in="srcA" stdDeviation="2.5" result="ab"/>
<feComposite in="srcA" in2="ab" operator="arithmetic" k2="1" k3="-1" result="rim"/>
<feFlood flood-color="#2a7a7a" flood-opacity="0.6"/>
<feComposite in2="rim" operator="in" result="rimc"/>
<feComposite in="specin" in2="lit2" operator="arithmetic" k1="0" k2="0.12" k3="1" k4="0" result="out1"/>
<feMerge><feMergeNode in="out1"/><feMergeNode in="rimc"/></feMerge>
</filter>
<filter id="bTe" x="-5%" y="-5%" width="110%" height="110%" color-interpolation-filters="sRGB">
<feTurbulence type="fractalNoise" baseFrequency="0.045" numOctaves="1" seed="25" result="dn"/>
<feDisplacementMap in="SourceGraphic" in2="dn" scale="9" xChannelSelector="R" yChannelSelector="G" result="src"/>
<feColorMatrix in="src" type="matrix" values="0 0 0 0 0  0 0 0 0 0  0 0 0 0 0  0 0 0 1 0" result="srcA"/>
<feTurbulence type="fractalNoise" baseFrequency="0.024" numOctaves="2" seed="5" result="noise"/>
<feGaussianBlur in="noise" stdDeviation="1.4" result="nb"/>
<feColorMatrix in="nb" type="matrix" values="0 0 0 0 0  0 0 0 0 0  0 0 0 0 0  1 0 0 0 0" result="na"/>
<feSpecularLighting in="na" surfaceScale="10" specularConstant="0.6" specularExponent="25" lighting-color="#ffffff" result="spec"><feDistantLight azimuth="235" elevation="60"/></feSpecularLighting>
<feComposite in="spec" in2="srcA" operator="in" result="specin"/>
<feDiffuseLighting in="na" surfaceScale="10" diffuseConstant="1" lighting-color="#ffffff" result="light"><feDistantLight azimuth="235" elevation="60"/></feDiffuseLighting>
<feComposite in="src" in2="light" operator="arithmetic" k1="1.14" k2="0" k3="0" k4="0" result="lit"/>
<feComposite in="lit" in2="srcA" operator="in" result="lit2"/>
<feGaussianBlur in="srcA" stdDeviation="2.5" result="ab"/>
<feComposite in="srcA" in2="ab" operator="arithmetic" k2="1" k3="-1" result="rim"/>
<feFlood flood-color="#0a5050" flood-opacity="0.6"/>
<feComposite in2="rim" operator="in" result="rimc"/>
<feComposite in="specin" in2="lit2" operator="arithmetic" k1="0" k2="0.12" k3="1" k4="0" result="out1"/>
<feMerge><feMergeNode in="out1"/><feMergeNode in="rimc"/></feMerge>
</filter>
<filter id="bBl" x="-5%" y="-5%" width="110%" height="110%" color-interpolation-filters="sRGB">
<feTurbulence type="fractalNoise" baseFrequency="0.045" numOctaves="1" seed="28" result="dn"/>
<feDisplacementMap in="SourceGraphic" in2="dn" scale="9" xChannelSelector="R" yChannelSelector="G" result="src"/>
<feColorMatrix in="src" type="matrix" values="0 0 0 0 0  0 0 0 0 0  0 0 0 0 0  0 0 0 1 0" result="srcA"/>
<feTurbulence type="fractalNoise" baseFrequency="0.026" numOctaves="2" seed="8" result="noise"/>
<feGaussianBlur in="noise" stdDeviation="1.4" result="nb"/>
<feColorMatrix in="nb" type="matrix" values="0 0 0 0 0  0 0 0 0 0  0 0 0 0 0  1 0 0 0 0" result="na"/>
<feSpecularLighting in="na" surfaceScale="10" specularConstant="0.6" specularExponent="25" lighting-color="#ffffff" result="spec"><feDistantLight azimuth="235" elevation="60"/></feSpecularLighting>
<feComposite in="spec" in2="srcA" operator="in" result="specin"/>
<feDiffuseLighting in="na" surfaceScale="10" diffuseConstant="1" lighting-color="#ffffff" result="light"><feDistantLight azimuth="235" elevation="60"/></feDiffuseLighting>
<feComposite in="src" in2="light" operator="arithmetic" k1="1.14" k2="0" k3="0" k4="0" result="lit"/>
<feComposite in="lit" in2="srcA" operator="in" result="lit2"/>
<feGaussianBlur in="srcA" stdDeviation="2.5" result="ab"/>
<feComposite in="srcA" in2="ab" operator="arithmetic" k2="1" k3="-1" result="rim"/>
<feFlood flood-color="#1a4a90" flood-opacity="0.6"/>
<feComposite in2="rim" operator="in" result="rimc"/>
<feComposite in="specin" in2="lit2" operator="arithmetic" k1="0" k2="0.2" k3="1" k4="0" result="out1"/>
<feMerge><feMergeNode in="out1"/><feMergeNode in="rimc"/></feMerge>
</filter>
<filter id="bLp" x="-5%" y="-5%" width="110%" height="110%" color-interpolation-filters="sRGB">
<feTurbulence type="fractalNoise" baseFrequency="0.045" numOctaves="1" seed="31" result="dn"/>
<feDisplacementMap in="SourceGraphic" in2="dn" scale="9" xChannelSelector="R" yChannelSelector="G" result="src"/>
<feColorMatrix in="src" type="matrix" values="0 0 0 0 0  0 0 0 0 0  0 0 0 0 0  0 0 0 1 0" result="srcA"/>
<feTurbulence type="fractalNoise" baseFrequency="0.024" numOctaves="2" seed="11" result="noise"/>
<feGaussianBlur in="noise" stdDeviation="1.4" result="nb"/>
<feColorMatrix in="nb" type="matrix" values="0 0 0 0 0  0 0 0 0 0  0 0 0 0 0  1 0 0 0 0" result="na"/>
<feSpecularLighting in="na" surfaceScale="7" specularConstant="0.6" specularExponent="25" lighting-color="#ffffff" result="spec"><feDistantLight azimuth="235" elevation="60"/></feSpecularLighting>
<feComposite in="spec" in2="srcA" operator="in" result="specin"/>
<feDiffuseLighting in="na" surfaceScale="7" diffuseConstant="1" lighting-color="#ffffff" result="light"><feDistantLight azimuth="235" elevation="60"/></feDiffuseLighting>
<feComposite in="src" in2="light" operator="arithmetic" k1="1.12" k2="0" k3="0" k4="0" result="lit"/>
<feComposite in="lit" in2="srcA" operator="in" result="lit2"/>
<feGaussianBlur in="srcA" stdDeviation="2.5" result="ab"/>
<feComposite in="srcA" in2="ab" operator="arithmetic" k2="1" k3="-1" result="rim"/>
<feFlood flood-color="#b07aa0" flood-opacity="0.5"/>
<feComposite in2="rim" operator="in" result="rimc"/>
<feComposite in="specin" in2="lit2" operator="arithmetic" k1="0" k2="0.08" k3="1" k4="0" result="out1"/>
<feMerge><feMergeNode in="out1"/><feMergeNode in="rimc"/></feMerge>
</filter>
<filter id="bMp" x="-5%" y="-5%" width="110%" height="110%" color-interpolation-filters="sRGB">
<feTurbulence type="fractalNoise" baseFrequency="0.045" numOctaves="1" seed="33" result="dn"/>
<feDisplacementMap in="SourceGraphic" in2="dn" scale="9" xChannelSelector="R" yChannelSelector="G" result="src"/>
<feColorMatrix in="src" type="matrix" values="0 0 0 0 0  0 0 0 0 0  0 0 0 0 0  0 0 0 1 0" result="srcA"/>
<feTurbulence type="fractalNoise" baseFrequency="0.024" numOctaves="2" seed="13" result="noise"/>
<feGaussianBlur in="noise" stdDeviation="1.4" result="nb"/>
<feColorMatrix in="nb" type="matrix" values="0 0 0 0 0  0 0 0 0 0  0 0 0 0 0  1 0 0 0 0" result="na"/>
<feSpecularLighting in="na" surfaceScale="10" specularConstant="0.6" specularExponent="25" lighting-color="#ffffff" result="spec"><feDistantLight azimuth="235" elevation="60"/></feSpecularLighting>
<feComposite in="spec" in2="srcA" operator="in" result="specin"/>
<feDiffuseLighting in="na" surfaceScale="10" diffuseConstant="1" lighting-color="#ffffff" result="light"><feDistantLight azimuth="235" elevation="60"/></feDiffuseLighting>
<feComposite in="src" in2="light" operator="arithmetic" k1="1.14" k2="0" k3="0" k4="0" result="lit"/>
<feComposite in="lit" in2="srcA" operator="in" result="lit2"/>
<feGaussianBlur in="srcA" stdDeviation="2.5" result="ab"/>
<feComposite in="srcA" in2="ab" operator="arithmetic" k2="1" k3="-1" result="rim"/>
<feFlood flood-color="#8a3a7a" flood-opacity="0.6"/>
<feComposite in2="rim" operator="in" result="rimc"/>
<feComposite in="specin" in2="lit2" operator="arithmetic" k1="0" k2="0.1" k3="1" k4="0" result="out1"/>
<feMerge><feMergeNode in="out1"/><feMergeNode in="rimc"/></feMerge>
</filter>
<filter id="bMg" x="-5%" y="-5%" width="110%" height="110%" color-interpolation-filters="sRGB">
<feTurbulence type="fractalNoise" baseFrequency="0.045" numOctaves="1" seed="37" result="dn"/>
<feDisplacementMap in="SourceGraphic" in2="dn" scale="9" xChannelSelector="R" yChannelSelector="G" result="src"/>
<feColorMatrix in="src" type="matrix" values="0 0 0 0 0  0 0 0 0 0  0 0 0 0 0  0 0 0 1 0" result="srcA"/>
<feTurbulence type="fractalNoise" baseFrequency="0.022" numOctaves="2" seed="17" result="noise"/>
<feGaussianBlur in="noise" stdDeviation="1.4" result="nb"/>
<feColorMatrix in="nb" type="matrix" values="0 0 0 0 0  0 0 0 0 0  0 0 0 0 0  1 0 0 0 0" result="na"/>
<feSpecularLighting in="na" surfaceScale="11" specularConstant="0.6" specularExponent="25" lighting-color="#ffffff" result="spec"><feDistantLight azimuth="235" elevation="60"/></feSpecularLighting>
<feComposite in="spec" in2="srcA" operator="in" result="specin"/>
<feDiffuseLighting in="na" surfaceScale="11" diffuseConstant="1" lighting-color="#ffffff" result="light"><feDistantLight azimuth="235" elevation="60"/></feDiffuseLighting>
<feComposite in="src" in2="light" operator="arithmetic" k1="1.14" k2="0" k3="0" k4="0" result="lit"/>
<feComposite in="lit" in2="srcA" operator="in" result="lit2"/>
<feGaussianBlur in="srcA" stdDeviation="2.5" result="ab"/>
<feComposite in="srcA" in2="ab" operator="arithmetic" k2="1" k3="-1" result="rim"/>
<feFlood flood-color="#5a0050" flood-opacity="0.6"/>
<feComposite in2="rim" operator="in" result="rimc"/>
<feComposite in="specin" in2="lit2" operator="arithmetic" k1="0" k2="0.08" k3="1" k4="0" result="out1"/>
<feMerge><feMergeNode in="out1"/><feMergeNode in="rimc"/></feMerge>
</filter>
<radialGradient id="gCy" cx="0.35" cy="0.3" r="0.8"><stop offset="0" stop-color="#88cccc"/><stop offset="0.6" stop-color="#7cc6c6"/><stop offset="1" stop-color="#66b6b6"/></radialGradient>
<radialGradient id="gTe" cx="0.5" cy="0.4" r="0.8"><stop offset="0" stop-color="#329c9a"/><stop offset="1" stop-color="#228a88"/></radialGradient>
<radialGradient id="gBl" cx="0.4" cy="0.4" r="0.8"><stop offset="0" stop-color="#4684cc"/><stop offset="1" stop-color="#326cb4"/></radialGradient>
<radialGradient id="gLp" cx="0.5" cy="0.3" r="0.8"><stop offset="0" stop-color="#eccce4"/><stop offset="1" stop-color="#e0b4d4"/></radialGradient>
<radialGradient id="gMp" cx="0.4" cy="0.3" r="0.8"><stop offset="0" stop-color="#c87ab8"/><stop offset="1" stop-color="#b45ea4"/></radialGradient>
<radialGradient id="gMg" cx="0.45" cy="0.4" r="0.75"><stop offset="0" stop-color="#b63ea6"/><stop offset="0.7" stop-color="#ac329e"/><stop offset="1" stop-color="#96208c"/></radialGradient>
<filter id="blr" x="-10%" y="-10%" width="120%" height="120%"><feGaussianBlur stdDeviation="1.3"/></filter>
</defs>
<path d="M368.7,605.0 C374.6,596.6 378.8,601.7 385.3,599.5 C391.8,597.3 400.7,592.9 407.5,592.0 C414.3,591.1 419.2,594.9 426.0,594.0 C432.8,593.1 443.1,587.2 448.0,586.6 C452.9,586.0 453.8,586.9 455.4,590.3 C456.9,593.7 454.9,602.7 457.3,607.0 C459.7,611.3 465.7,612.3 470.0,616.0 C474.3,619.7 478.7,625.0 483.0,629.0 C487.3,633.0 490.8,638.5 496.0,640.0 C501.2,641.5 509.5,637.6 514.4,638.2 C519.3,638.8 522.7,640.7 525.5,643.8 C528.3,646.9 530.4,651.8 531.0,656.7 C531.6,661.6 530.1,668.1 529.2,673.3 C528.3,678.5 525.5,683.1 525.5,688.0 C525.5,692.9 528.9,697.9 529.2,702.8 C529.5,707.7 528.8,714.1 527.3,717.5 C525.8,720.9 521.2,719.9 520.0,723.0 C518.8,726.1 521.2,730.8 520.0,736.0 C518.8,741.2 514.8,748.9 512.6,754.4 C510.4,759.9 509.1,765.9 507.0,769.0 C504.9,772.1 502.5,771.2 499.7,773.0 C496.9,774.8 494.9,782.2 490.0,780.0 C485.1,777.8 485.0,773.3 470.0,760.0 C455.0,746.7 423.3,710.0 400.0,700.0 C376.7,690.0 346.7,693.3 330.0,700.0 C313.3,706.7 296.7,748.3 300.0,740.0 C303.3,731.7 338.6,672.5 350.0,650.0 C361.4,627.5 362.8,613.4 368.7,605.0Z" fill="url(#gLp)" filter="url(#bLp)"/>
<path d="M350.3,636.4 C351.9,629.9 354.9,632.1 357.7,629.0 C360.5,625.9 364.4,621.7 366.9,618.0 C369.3,614.3 369.0,609.2 372.4,607.0 C375.8,604.8 382.6,604.4 387.2,605.0 C391.8,605.6 394.8,607.8 400.0,610.6 C405.2,613.4 412.9,618.2 418.5,621.6 C424.1,625.0 426.8,629.4 433.3,631.0 C439.8,632.6 451.2,631.0 457.3,631.0 C463.4,631.0 465.7,627.7 470.0,631.0 C474.3,634.3 478.4,646.4 483.0,651.0 C487.6,655.6 496.2,654.8 497.8,658.5 C499.4,662.2 494.8,669.0 492.3,673.3 C489.8,677.6 484.6,680.1 483.0,684.4 C481.4,688.7 481.8,695.6 483.0,699.0 C484.2,702.4 486.4,703.7 490.4,704.6 C494.4,705.5 502.4,702.8 507.0,704.6 C511.6,706.5 516.8,711.7 518.0,715.7 C519.2,719.7 516.8,724.0 514.4,728.6 C512.0,733.2 504.9,738.8 503.4,743.4 C501.9,748.0 506.4,752.0 505.2,756.3 C504.0,760.6 499.1,766.2 496.0,769.0 C492.9,771.8 491.1,773.7 486.8,773.0 C482.5,772.3 481.1,769.7 470.0,765.0 C458.9,760.3 435.0,751.7 420.0,745.0 C405.0,738.3 390.8,733.3 380.0,725.0 C369.2,716.7 360.3,704.5 355.0,695.0 C349.7,685.5 348.8,677.8 348.0,668.0 C347.2,658.2 348.7,642.9 350.3,636.4Z" fill="url(#gMp)" filter="url(#bMp)"/>
<path d="M151.9,671.3 C152.6,664.7 154.8,657.1 158.4,649.4 C162.0,641.7 168.3,631.5 173.8,625.3 C179.2,619.1 185.4,616.2 191.2,612.2 C197.1,608.2 203.6,605.6 208.8,601.2 C213.9,596.9 216.1,589.2 221.9,585.9 C227.7,582.6 236.5,580.5 243.8,581.6 C251.0,582.7 258.3,591.4 265.6,592.5 C272.9,593.6 278.0,588.1 287.5,588.1 C297.0,588.1 315.2,590.0 322.5,592.5 C329.8,595.0 331.0,598.2 331.0,603.0 C331.0,607.8 321.0,614.7 322.5,621.0 C324.0,627.3 334.2,633.7 340.0,640.6 C345.8,647.5 353.8,657.3 357.5,662.5 C361.2,667.7 364.9,665.8 362.0,672.0 C359.1,678.2 347.0,685.3 340.0,700.0 C333.0,714.7 324.0,743.3 320.0,760.0 C316.0,776.7 319.2,790.5 316.0,800.0 C312.8,809.5 305.9,813.3 300.6,817.2 C295.3,821.1 289.1,821.6 284.4,823.3 C279.7,825.0 276.3,827.0 272.2,827.3 C268.1,827.6 264.7,828.0 260.0,825.3 C255.3,822.6 249.4,816.5 243.8,811.2 C238.1,806.0 232.8,799.6 226.2,793.8 C219.7,787.9 209.5,781.8 204.4,776.0 C199.3,770.2 197.8,763.8 195.6,758.8 C193.4,753.7 193.8,750.7 191.2,745.6 C188.7,740.5 184.7,733.8 180.3,728.0 C175.9,722.2 169.4,717.1 165.0,710.6 C160.6,704.1 156.2,695.3 154.0,688.8 C151.8,682.2 151.2,677.9 151.9,671.3Z" fill="url(#gCy)" filter="url(#bCy)"/>
<path d="M290.0,643.0 C297.3,639.7 315.8,638.5 325.0,640.0 C334.2,641.5 338.8,646.7 345.0,652.0 C351.2,657.3 362.0,664.0 362.0,672.0 C362.0,680.0 351.7,688.7 345.0,700.0 C338.3,711.3 326.8,725.0 322.0,740.0 C317.2,755.0 319.6,777.1 316.0,790.0 C312.4,802.9 305.9,811.7 300.6,817.2 C295.3,822.8 289.1,821.6 284.4,823.3 C279.7,825.0 276.3,827.0 272.2,827.3 C268.1,827.6 264.7,828.0 260.0,825.3 C255.3,822.6 249.4,816.5 243.8,811.2 C238.1,806.0 232.8,799.6 226.2,793.8 C219.7,787.9 209.6,782.0 204.4,776.0 C199.2,770.0 196.7,763.7 195.0,758.0 C193.3,752.3 193.6,745.6 194.5,742.0 C195.4,738.4 197.4,738.5 200.3,736.2 C203.2,734.0 208.1,731.0 212.0,728.4 C215.9,725.8 219.2,722.5 223.8,720.6 C228.2,718.7 234.3,719.6 239.0,716.7 C243.7,713.8 248.0,707.5 252.0,703.0 C256.0,698.5 259.7,694.5 263.0,690.0 C266.3,685.5 269.0,681.0 272.0,676.0 C275.0,671.0 278.0,665.5 281.0,660.0 C284.0,654.5 282.7,646.3 290.0,643.0Z" fill="url(#gTe)" filter="url(#bTe)"/>
<path d="M282.3,825.3 C279.9,829.0 287.1,834.4 286.4,839.5 C285.7,844.6 280.3,852.1 278.3,855.8 C276.3,859.5 273.9,859.9 274.2,861.9 C274.5,863.9 277.2,866.3 280.3,868.0 C283.4,869.7 290.8,870.0 292.5,872.0 C294.2,874.0 289.1,877.8 290.5,880.2 C291.9,882.6 296.6,884.9 300.6,886.2 C304.7,887.6 311.1,887.3 314.8,888.3 C318.5,889.3 319.9,892.6 323.0,892.3 C326.1,892.0 329.4,887.9 333.1,886.2 C336.8,884.6 340.6,882.5 345.3,882.2 C350.1,881.9 356.9,882.2 361.6,884.2 C366.3,886.2 370.0,891.4 373.8,894.4 C377.5,897.4 380.5,901.5 383.9,902.5 C387.3,903.5 390.9,901.9 394.0,900.5 C397.1,899.1 400.5,897.8 402.2,894.4 C403.9,891.0 402.5,883.9 404.2,880.2 C405.9,876.5 409.7,876.2 412.3,872.0 C414.9,867.8 420.4,861.2 420.0,855.0 C419.6,848.8 418.3,837.5 410.0,835.0 C401.7,832.5 380.8,843.3 370.0,840.0 C359.2,836.7 351.7,823.3 345.0,815.0 C338.3,806.7 335.8,792.5 330.0,790.0 C324.2,787.5 314.9,795.5 310.0,800.0 C305.1,804.5 305.2,813.0 300.6,817.2 C296.0,821.4 284.7,821.6 282.3,825.3Z" fill="url(#gBl)" filter="url(#bBl)"/>
<path d="M296.2,701.9 C297.7,697.5 299.4,698.3 305.0,697.5 C310.6,696.7 324.0,697.9 330.0,697.3 C336.0,696.6 336.1,694.8 341.0,693.6 C345.9,692.4 354.3,693.4 359.5,690.0 C364.7,686.6 368.7,676.1 372.4,673.3 C376.1,670.5 378.9,672.1 381.7,673.3 C384.5,674.5 386.6,676.3 389.0,680.6 C391.4,684.9 393.3,695.9 396.4,699.0 C399.5,702.1 403.2,699.6 407.5,699.0 C411.8,698.4 417.4,696.6 422.3,695.4 C427.2,694.2 432.1,691.7 437.0,691.7 C441.9,691.7 448.0,691.7 451.7,695.4 C455.4,699.1 456.5,707.2 459.0,714.0 C461.5,720.8 464.6,729.3 466.5,736.0 C468.4,742.7 467.8,748.9 470.2,754.4 C472.6,759.9 477.8,764.7 481.2,769.0 C484.6,773.3 488.0,776.4 490.4,780.0 C492.8,783.6 495.1,787.6 495.6,790.8 C496.1,794.0 495.3,796.3 493.6,799.0 C491.9,801.7 489.2,805.0 485.5,807.0 C481.8,809.0 474.4,808.0 471.3,811.0 C468.2,814.0 468.9,819.5 467.2,825.3 C465.5,831.1 464.0,841.5 461.0,845.6 C458.0,849.7 454.7,850.0 449.0,849.7 C443.3,849.4 432.0,842.9 426.6,843.6 C421.2,844.3 420.5,852.1 416.4,853.8 C412.3,855.4 407.9,851.7 402.2,853.8 C396.4,855.8 388.0,864.6 381.9,866.0 C375.8,867.4 371.0,864.9 365.6,861.9 C360.2,858.9 353.8,852.1 349.4,847.7 C345.0,843.3 341.9,840.6 339.2,835.5 C336.5,830.4 336.1,824.0 333.1,817.2 C330.1,810.4 324.4,801.9 321.0,794.8 C317.6,787.7 314.7,779.0 312.8,774.5 C310.9,770.0 310.7,773.0 309.4,767.5 C308.1,762.0 307.2,748.5 305.0,741.2 C302.8,734.0 297.7,730.3 296.2,723.8 C294.8,717.2 294.8,706.3 296.2,701.9Z" fill="url(#gMg)" filter="url(#bMg)"/>
<polyline points="219.8,653.2 227.7,656.2 225.7,662 229.6,669.8 235.5,675.7 239.4,697.2 242.3,704" fill="none" stroke="#6a6410" stroke-width="3.6" stroke-linejoin="round"/>
<polyline points="246.5,710 255,712.8 266.7,714.8 289,721.5" fill="none" stroke="#6a6410" stroke-width="3.6"/>
<circle cx="241.5" cy="709" r="4.6" fill="none" stroke="#6a6410" stroke-width="3.6"/>
<path d="M241.5,713.6 L243,719" stroke="#6a6410" stroke-width="3.6"/>
<polyline points="219.8,653.2 227.7,656.2 225.7,662 229.6,669.8 235.5,675.7 239.4,697.2 242.3,704" fill="none" stroke="#ece436" stroke-width="2.0" stroke-linejoin="round"/>
<polyline points="246.5,710 255,712.8 266.7,714.8 289,721.5" fill="none" stroke="#ece436" stroke-width="2.0"/>
<circle cx="241.5" cy="709" r="4.6" fill="none" stroke="#ece436" stroke-width="2.0"/>
<path d="M241.5,713.6 L243,719" stroke="#ece436" stroke-width="2.0"/>
<path d="M224,657 L227,659 M228,669 L231,672 M236,706 L238,708 M253,712 L256,713" stroke="#2a3a9a" stroke-width="2"/>
<text x="139.5" y="631" font-family="Liberation Serif" font-weight="bold" font-size="10.2" fill="#111">MonoA: D1</text>
<text x="535" y="681" font-family="Liberation Serif" font-weight="bold" font-size="10.2" fill="#111">MonoB: D1</text>
<text x="511" y="761" font-family="Liberation Serif" font-weight="bold" font-size="10.2" fill="#111">MonoB: D2</text>
<text x="176.5" y="797" font-family="Liberation Serif" font-weight="bold" font-size="10.2" fill="#111">MonoA: D2</text>
<text x="467.5" y="838" font-family="Liberation Serif" font-weight="bold" font-size="10.2" fill="#111">MonoB: D3</text>
<text x="266.5" y="903.5" font-family="Liberation Serif" font-weight="bold" font-size="10.2" fill="#111">MonoA: D3</text>
<text x="220" y="708" font-family="Liberation Serif" font-weight="bold" font-size="11.5" fill="#c0262a">S2</text>
<text x="273" y="732" font-family="Liberation Serif" font-weight="bold" font-size="11.5" fill="#c0262a">S1</text>
<text x="238" y="751" font-family="Liberation Serif" font-weight="bold" font-size="11.5" fill="#c0262a">S4</text>
<rect x="196.8" y="644.5" width="105.1" height="114.2" fill="none" stroke="#151515" stroke-width="1.6" stroke-dasharray="5,3"/>
<path d="M197,758.7 L156.2,947.5 M301.9,758.7 L587.4,947.5" stroke="#151515" stroke-width="1.6" stroke-dasharray="5,3"/>
<text transform="translate(69.8,577.9) scale(0.9,1)" font-size="37.8" font-weight="bold" fill="#1a1a1a">D</text>
<text transform="translate(69.2,921.4) scale(0.87,1)" font-size="37.8" font-weight="bold" fill="#1a1a1a">E</text>
<defs>
<linearGradient id="hxA" x1="0" y1="0" x2="1" y2="1"><stop offset="0" stop-color="#5cc2c8"/><stop offset="0.5" stop-color="#46b0b6"/><stop offset="1" stop-color="#3a9ea4"/></linearGradient>
<linearGradient id="hxB" x1="0" y1="0" x2="1" y2="0"><stop offset="0" stop-color="#2f9aa0"/><stop offset="1" stop-color="#7fd0d2"/></linearGradient>
<linearGradient id="stD" x1="0" y1="1" x2="1" y2="0"><stop offset="0" stop-color="#1f6f72"/><stop offset="0.5" stop-color="#2c8c90"/><stop offset="1" stop-color="#3aa4a8"/></linearGradient>
<clipPath id="clipE"><rect x="156.2" y="947.5" width="431.2" height="296.2"/></clipPath>
</defs>
<g clip-path="url(#clipE)">
<path d="M504.7,1060.5 C510.3,1062.5 528.0,1066.1 538.4,1072.5 C548.8,1078.9 560.1,1088.2 567.3,1099.0 C574.5,1109.8 578.5,1123.1 581.7,1137.5 C584.9,1151.9 586.3,1167.5 586.5,1185.6 C586.7,1203.7 583.6,1235.9 583.0,1246.0" fill="none" stroke="#a8d8da" stroke-width="19"/>
<path d="M473.5,1048.5 C477.1,1056.9 488.2,1082.2 495.0,1099.0 C501.8,1115.8 508.8,1133.1 514.4,1149.5 C520.0,1165.9 525.2,1181.5 528.8,1197.6 C532.4,1213.7 534.8,1237.9 536.0,1246.0" fill="none" stroke="#b0dcde" stroke-width="16"/>
<path d="M410.9,1135.0 C416.1,1138.6 432.2,1149.1 442.2,1156.7 C452.2,1164.3 460.6,1172.0 471.0,1180.8 C481.4,1189.6 494.9,1198.8 504.7,1209.7 C514.5,1220.6 525.8,1240.0 530.0,1246.0" fill="none" stroke="#bce2e3" stroke-width="13"/>
<path d="M318,1026 L323,1024 L366,1062 L356,1064 Z" fill="#a7c9cb" opacity="0.8"/>
<path d="M300,1110 C320,1095 340,1080 380,1070 L390,1076 C350,1090 330,1105 305,1120 Z" fill="#d4ecec" opacity="0.7"/>
<path d="M370.0,1075.0 C375.0,1080.8 391.7,1097.5 400.0,1110.0 C408.3,1122.5 415.0,1135.0 420.0,1150.0 C425.0,1165.0 428.3,1191.7 430.0,1200.0" fill="none" stroke="#d2ebeb" stroke-width="10" stroke-opacity="0.8" stroke-linecap="butt"/>
<path d="M268.0,1008.0 C270.8,1005.8 278.1,997.1 285.0,995.0 C291.9,992.9 302.2,994.7 309.7,995.5 C317.2,996.3 324.1,998.4 330.0,1000.0 C335.9,1001.6 340.8,1001.7 345.0,1005.0 C349.2,1008.3 353.3,1017.5 355.0,1020.0" fill="none" stroke="#b2dcdd" stroke-width="3"/>
<path d="M262.0,1015.0 C262.0,1019.2 260.7,1033.3 262.0,1040.0 C263.3,1046.7 263.7,1050.8 270.0,1055.0 C276.3,1059.2 290.0,1062.2 300.0,1065.0 C310.0,1067.8 318.3,1070.3 330.0,1072.0 C341.7,1073.7 363.3,1074.5 370.0,1075.0" fill="none" stroke="#b2dcdd" stroke-width="3"/>
<path d="M304.0,1099.0 C303.1,1104.1 299.8,1120.2 298.6,1129.8 C297.4,1139.4 295.0,1151.2 296.6,1156.6 C298.2,1162.0 306.1,1161.1 308.0,1162.0" fill="none" stroke="#b2dcdd" stroke-width="3"/>
<path d="M357.9,1156.6 C359.2,1160.4 364.2,1175.7 365.5,1179.5" fill="none" stroke="#b2dcdd" stroke-width="3"/>
<path d="M340.0,1175.0 C338.3,1180.0 333.3,1194.2 330.0,1205.0 C326.7,1215.8 321.7,1234.2 320.0,1240.0" fill="none" stroke="#b2dcdd" stroke-width="3"/>
<path d="M419.2,1028.6 C419.7,1030.2 419.6,1034.4 421.7,1038.5 C423.8,1042.6 428.3,1049.2 431.6,1053.3 C434.9,1057.4 439.8,1061.4 441.4,1063.0" fill="none" stroke="#b2dcdd" stroke-width="3"/>
<path d="M157.0,1131.0 C160.0,1130.5 169.5,1128.8 175.0,1128.0 C180.5,1127.2 187.5,1126.3 190.0,1126.0" fill="none" stroke="#b2dcdd" stroke-width="3"/>
<path d="M235.0,1050.0 C235.8,1053.3 237.2,1064.2 240.0,1070.0 C242.8,1075.8 250.0,1082.5 252.0,1085.0" fill="none" stroke="#b2dcdd" stroke-width="3"/>
<path d="M238.0,1100.0 C242.5,1099.7 254.7,1098.8 265.0,1098.0 C275.3,1097.2 290.8,1095.0 300.0,1095.0 C309.2,1095.0 316.7,1097.5 320.0,1098.0" fill="none" stroke="#b2dcdd" stroke-width="3"/>
<path d="M206.7,1181.4 C210.6,1181.7 226.1,1182.7 230.0,1183.0" fill="none" stroke="#b2dcdd" stroke-width="3"/>
<path d="M419.2,1028.6 C425.4,1028.2 445.5,1025.4 456.2,1026.2 C466.9,1027.0 476.7,1029.5 483.3,1033.6 C489.9,1037.7 492.3,1043.4 495.6,1050.8 C498.9,1058.2 500.9,1071.7 503.0,1077.9 C505.1,1084.1 503.5,1085.7 508.0,1087.8 C512.5,1089.8 523.0,1088.2 530.0,1090.2 C537.0,1092.2 544.8,1095.5 549.8,1100.0 C554.7,1104.5 557.6,1109.1 559.6,1117.3 C561.6,1125.5 559.9,1141.1 562.0,1149.3 C564.1,1157.5 570.8,1161.6 572.0,1166.5 C573.2,1171.4 572.0,1175.6 569.5,1178.9 C567.0,1182.2 564.1,1180.9 557.1,1186.2 C550.1,1191.6 536.2,1201.5 527.6,1210.9 C519.0,1220.3 509.1,1237.6 505.4,1242.9" fill="none" stroke="#1b6f73" stroke-width="3.2"/>
<path d="M419.2,1028.6 C425.4,1028.2 445.5,1025.4 456.2,1026.2 C466.9,1027.0 476.7,1029.5 483.3,1033.6 C489.9,1037.7 492.3,1043.4 495.6,1050.8 C498.9,1058.2 500.9,1071.7 503.0,1077.9 C505.1,1084.1 503.5,1085.7 508.0,1087.8 C512.5,1089.8 523.0,1088.2 530.0,1090.2 C537.0,1092.2 544.8,1095.5 549.8,1100.0 C554.7,1104.5 557.6,1109.1 559.6,1117.3 C561.6,1125.5 559.9,1141.1 562.0,1149.3 C564.1,1157.5 570.8,1161.6 572.0,1166.5 C573.2,1171.4 572.0,1175.6 569.5,1178.9 C567.0,1182.2 564.1,1180.9 557.1,1186.2 C550.1,1191.6 536.2,1201.5 527.6,1210.9 C519.0,1220.3 509.1,1237.6 505.4,1242.9" fill="none" stroke="#5cc0c4" stroke-width="1.8"/>
<path d="M193.0,1013.8 C195.2,1011.9 201.7,1008.3 204.2,1007.4 C206.7,1006.5 215.3,1004.7 218.3,1004.6 C221.3,1004.5 231.6,1005.6 233.8,1006.0 C235.9,1006.4 238.7,1007.0 239.4,1008.1 C240.1,1009.2 240.4,1014.9 240.8,1016.6 C241.2,1018.3 243.7,1023.0 243.6,1025.0 C243.5,1027.0 241.2,1035.5 239.4,1036.2 C237.6,1037.0 228.1,1032.4 225.3,1032.0 C222.5,1031.6 214.1,1032.3 211.2,1032.7 C208.4,1033.1 199.7,1035.3 197.2,1036.2 C194.7,1037.2 187.3,1040.9 186.0,1041.9 C184.7,1042.9 184.5,1045.2 184.5,1046.0 C184.5,1046.8 184.7,1048.7 186.0,1050.3 C187.3,1051.9 194.7,1059.6 197.2,1061.6 C199.7,1063.6 208.2,1068.5 211.2,1070.0 C214.3,1071.5 225.0,1075.9 228.1,1077.0 C231.2,1078.1 240.4,1080.3 242.2,1081.2 C244.0,1082.2 246.8,1084.9 246.4,1086.9 C246.0,1088.9 239.8,1098.6 238.0,1101.0 C236.2,1103.4 230.5,1110.1 228.1,1110.8 C225.7,1111.5 216.8,1109.0 214.0,1108.0 C211.2,1107.0 202.8,1102.8 200.0,1101.0 C197.2,1099.2 188.2,1092.2 186.0,1089.7 C183.8,1087.2 178.8,1078.7 177.5,1075.6 C176.2,1072.5 173.6,1062.0 173.3,1058.8 C173.0,1055.5 173.9,1046.5 174.7,1043.3 C175.5,1040.1 179.9,1029.4 181.7,1026.4 C183.5,1023.4 190.8,1015.6 193.0,1013.8Z" fill="url(#hxA)" stroke="#1b6f73" stroke-width="1"/>
<path d="M186.0,1041.9 C186.6,1040.8 195.1,1037.0 197.2,1036.2 C199.3,1035.5 208.9,1033.1 211.2,1032.7 C213.6,1032.3 223.0,1031.7 225.3,1032.0 C227.6,1032.3 238.8,1035.6 239.4,1036.2 C240.0,1036.9 234.0,1039.5 232.0,1040.0 C230.0,1040.5 217.7,1041.5 215.0,1042.0 C212.3,1042.5 202.1,1045.3 200.0,1046.0 C197.9,1046.7 191.2,1050.3 190.0,1050.0 C188.8,1049.7 185.4,1043.0 186.0,1041.9Z" fill="#ffffff"/>
<path d="M186.0,1050.3 C186.0,1048.7 194.8,1042.9 197.2,1042.0 C199.6,1041.1 211.8,1040.0 215.0,1040.0 C218.2,1040.0 234.1,1040.3 236.0,1042.0 C237.9,1043.7 237.5,1056.7 238.0,1060.0 C238.5,1063.3 243.0,1079.8 242.2,1081.2 C241.4,1082.7 230.7,1077.9 228.1,1077.0 C225.5,1076.1 213.8,1071.3 211.2,1070.0 C208.7,1068.7 199.3,1063.2 197.2,1061.6 C195.1,1060.0 186.0,1051.9 186.0,1050.3Z" fill="#ffffff" stroke="#1b6f73" stroke-width="0.8"/>
<path d="M238,1036 C244,1040 246,1050 240,1058" fill="none" stroke="#3a9ea4" stroke-width="4"/>
<path d="M157.0,1137.0 C158.7,1132.3 166.4,1131.1 170.0,1130.0 C173.6,1128.9 179.6,1128.1 183.7,1128.8 C187.8,1129.5 197.9,1132.3 201.0,1135.5 C204.1,1138.7 206.7,1148.1 206.7,1152.7 C206.7,1157.3 204.1,1166.9 201.0,1170.0 C197.9,1173.1 188.8,1175.2 183.7,1175.7 C178.6,1176.2 166.3,1175.2 162.7,1173.8 C159.1,1172.4 157.8,1169.9 157.0,1165.0 C156.2,1160.1 155.3,1141.7 157.0,1137.0Z" fill="#78c6ca" stroke="#1b6f73" stroke-width="0.8"/>
<ellipse cx="176" cy="1154" rx="16" ry="11" fill="#ffffff"/>
<path d="M160,1160 C170,1170 190,1170 200,1162 L203,1168 C190,1178 168,1178 158,1168 Z" fill="#9ad6d8"/>
<path d="M157.0,1186.0 C160.1,1183.5 177.5,1192.9 183.7,1193.0 C189.9,1193.1 207.2,1186.3 210.5,1187.0 C213.8,1187.7 213.3,1195.8 212.4,1198.7 C211.5,1201.6 206.2,1209.8 202.8,1212.0 C199.5,1214.2 189.0,1217.6 183.7,1217.8 C178.4,1218.0 160.1,1217.7 157.0,1214.0 C153.9,1210.3 153.9,1188.5 157.0,1186.0Z" fill="#6cbec3" stroke="#1b6f73" stroke-width="0.8"/>
<path d="M157,1190 C175,1200 195,1198 208,1190 L210,1195 C195,1205 172,1206 157,1198 Z" fill="#ffffff"/>
<path d="M238.3,1097.2 C234.0,1097.8 219.9,1097.5 212.4,1101.0 C204.9,1104.5 198.1,1112.2 193.3,1118.3 C188.5,1124.4 186.2,1131.7 183.7,1137.4 C181.1,1143.1 176.7,1149.8 178.0,1152.7 C179.3,1155.6 191.1,1152.4 191.4,1154.6 C191.7,1156.8 183.2,1161.8 180.0,1166.0 C176.8,1170.2 172.5,1176.0 172.2,1179.5 C171.9,1183.0 172.2,1186.9 178.0,1187.2 C183.8,1187.5 198.9,1182.6 206.7,1181.4 C214.5,1180.2 221.9,1180.2 225.0,1180.0" fill="none" stroke="#1b6f73" stroke-width="3.6" stroke-linecap="round"/>
<path d="M238.3,1097.2 C234.0,1097.8 219.9,1097.5 212.4,1101.0 C204.9,1104.5 198.1,1112.2 193.3,1118.3 C188.5,1124.4 186.2,1131.7 183.7,1137.4 C181.1,1143.1 176.7,1149.8 178.0,1152.7 C179.3,1155.6 191.1,1152.4 191.4,1154.6 C191.7,1156.8 183.2,1161.8 180.0,1166.0 C176.8,1170.2 172.5,1176.0 172.2,1179.5 C171.9,1183.0 172.2,1186.9 178.0,1187.2 C183.8,1187.5 198.9,1182.6 206.7,1181.4 C214.5,1180.2 221.9,1180.2 225.0,1180.0" fill="none" stroke="#2f9ca0" stroke-width="2.2" stroke-linecap="round"/>
<path d="M279.4,1130.7 C279.1,1133.4 275.9,1141.1 277.5,1147.0 C279.1,1152.9 283.9,1163.5 289.0,1166.1 C294.1,1168.6 301.7,1161.3 308.1,1162.3 C314.5,1163.3 320.9,1166.5 327.3,1171.9 C333.7,1177.3 340.0,1188.4 346.4,1194.8 C352.8,1201.2 356.6,1207.3 365.5,1210.2 C374.4,1213.1 389.0,1211.1 400.0,1212.0 C411.0,1212.9 423.1,1212.7 431.6,1215.8 C440.2,1218.9 446.6,1225.6 451.3,1230.6 C456.0,1235.6 458.6,1243.4 460.0,1246.0" fill="none" stroke="#1b6f73" stroke-width="3.6" stroke-linecap="round"/>
<path d="M279.4,1130.7 C279.1,1133.4 275.9,1141.1 277.5,1147.0 C279.1,1152.9 283.9,1163.5 289.0,1166.1 C294.1,1168.6 301.7,1161.3 308.1,1162.3 C314.5,1163.3 320.9,1166.5 327.3,1171.9 C333.7,1177.3 340.0,1188.4 346.4,1194.8 C352.8,1201.2 356.6,1207.3 365.5,1210.2 C374.4,1213.1 389.0,1211.1 400.0,1212.0 C411.0,1212.9 423.1,1212.7 431.6,1215.8 C440.2,1218.9 446.6,1225.6 451.3,1230.6 C456.0,1235.6 458.6,1243.4 460.0,1246.0" fill="none" stroke="#2f9ca0" stroke-width="2.2" stroke-linecap="round"/>
<path d="M289.0,1166.1 C292.2,1169.3 303.3,1177.3 308.1,1185.3 C312.9,1193.3 315.1,1206.0 317.7,1214.0 C320.2,1222.0 318.6,1228.5 323.4,1233.1 C328.2,1237.7 342.6,1240.3 346.4,1241.7" fill="none" stroke="#1b6f73" stroke-width="3.6" stroke-linecap="round"/>
<path d="M289.0,1166.1 C292.2,1169.3 303.3,1177.3 308.1,1185.3 C312.9,1193.3 315.1,1206.0 317.7,1214.0 C320.2,1222.0 318.6,1228.5 323.4,1233.1 C328.2,1237.7 342.6,1240.3 346.4,1241.7" fill="none" stroke="#2f9ca0" stroke-width="2.2" stroke-linecap="round"/>
<path d="M441.4,1117.3 C443.0,1116.5 444.7,1112.4 451.3,1112.4 C457.9,1112.4 471.4,1115.7 480.8,1117.3 C490.2,1118.9 500.9,1122.2 507.9,1122.2 C514.9,1122.2 519.8,1120.2 522.7,1117.3 C525.6,1114.4 525.9,1107.5 525.1,1105.0 C524.3,1102.5 521.1,1101.3 517.8,1102.5 C514.4,1103.7 507.1,1110.4 505.0,1112.0" fill="none" stroke="#1b6f73" stroke-width="3.6" stroke-linecap="round"/>
<path d="M441.4,1117.3 C443.0,1116.5 444.7,1112.4 451.3,1112.4 C457.9,1112.4 471.4,1115.7 480.8,1117.3 C490.2,1118.9 500.9,1122.2 507.9,1122.2 C514.9,1122.2 519.8,1120.2 522.7,1117.3 C525.6,1114.4 525.9,1107.5 525.1,1105.0 C524.3,1102.5 521.1,1101.3 517.8,1102.5 C514.4,1103.7 507.1,1110.4 505.0,1112.0" fill="none" stroke="#2f9ca0" stroke-width="2.2" stroke-linecap="round"/>
<path d="M441.4,1117.3 C441.0,1121.4 440.6,1134.5 439.0,1141.9 C437.4,1149.3 432.8,1158.3 431.6,1161.6" fill="none" stroke="#1b6f73" stroke-width="3.6" stroke-linecap="round"/>
<path d="M441.4,1117.3 C441.0,1121.4 440.6,1134.5 439.0,1141.9 C437.4,1149.3 432.8,1158.3 431.6,1161.6" fill="none" stroke="#2f9ca0" stroke-width="2.2" stroke-linecap="round"/>
<path d="M156.0,1212.0 C160.8,1213.7 176.0,1218.2 185.0,1222.0 C194.0,1225.8 205.8,1232.8 210.0,1235.0" fill="none" stroke="#1b6f73" stroke-width="3.6" stroke-linecap="round"/>
<path d="M156.0,1212.0 C160.8,1213.7 176.0,1218.2 185.0,1222.0 C194.0,1225.8 205.8,1232.8 210.0,1235.0" fill="none" stroke="#2f9ca0" stroke-width="2.2" stroke-linecap="round"/>
<path d="M405,1244 C430,1215 455,1185 480,1160 C500,1140 512,1120 520,1104 L530,1112 C522,1128 508,1150 492,1172 C470,1200 448,1225 420,1244 Z" fill="url(#stD)" stroke="#155e62" stroke-width="0.8"/>
<path d="M414,1142 L444,1141 L441,1150 L433,1152 L430,1186 L424,1186 Z" fill="#1f6f72"/>
<polyline points="270.3,1005.3 290.0,1035.3 302.5,1058.8" fill="none" stroke="#e9e22a" stroke-width="2.7" stroke-linejoin="round" stroke-linecap="round"/>
<polyline points="302.5,1058.8 307.2,1068.0 311.9,1079.0" fill="none" stroke="#4a3fa0" stroke-width="2.7" stroke-linejoin="round" stroke-linecap="round"/>
<polyline points="311.9,1079.0 316.6,1088.4" fill="none" stroke="#e9e22a" stroke-width="2.7" stroke-linejoin="round" stroke-linecap="round"/>
<polyline points="231.0,1002.5 245.0,998.3 247.8,987.0" fill="none" stroke="#e9e22a" stroke-width="2.4" stroke-linejoin="round" stroke-linecap="round"/>
<polyline points="245.0,998.3 253.4,1008.1 261.9,1008.1" fill="none" stroke="#6a5bb0" stroke-width="2.4" stroke-linejoin="round" stroke-linecap="round"/>
<polyline points="261.9,1008.1 253.4,1020.8 239.4,1012.3 231.0,1002.5" fill="none" stroke="#e0d830" stroke-width="2.4" stroke-linejoin="round" stroke-linecap="round"/>
<polyline points="261.9,1008.1 270.3,1005.3" fill="none" stroke="#e9e22a" stroke-width="2.4" stroke-linejoin="round" stroke-linecap="round"/>
<polyline points="342.0,1103.2 333.8,1117.5 317.2,1117.5 309.0,1103.2 317.2,1088.9 333.8,1088.9 342.0,1103.2" fill="none" stroke="#e9e22a" stroke-width="2.7" stroke-linejoin="round" stroke-linecap="round"/>
<polyline points="333.8,1118.0 343.9,1136.0" fill="none" stroke="#e9e22a" stroke-width="2.7" stroke-linejoin="round" stroke-linecap="round"/>
<polyline points="342.0,1103.2 360.3,1103.3" fill="none" stroke="#e9e22a" stroke-width="2.7" stroke-linejoin="round" stroke-linecap="round"/>
<polyline points="360.3,1103.3 371.2,1096.2" fill="none" stroke="#4a3fa0" stroke-width="2.7" stroke-linejoin="round" stroke-linecap="round"/>
<polyline points="371.2,1096.2 374.4,1091.6 368.1,1069.7 390.0,1063.4 399.4,1077.5 391.6,1090.0 374.4,1091.6" fill="none" stroke="#e9e22a" stroke-width="2.7" stroke-linejoin="round" stroke-linecap="round"/>
<polyline points="399.4,1077.5 422.8,1078.3" fill="none" stroke="#e9e22a" stroke-width="2.7" stroke-linejoin="round" stroke-linecap="round"/>
<polyline points="457.8,1077.5 449.3,1092.2 432.3,1092.2 423.8,1077.5 432.3,1062.8 449.3,1062.8 457.8,1077.5" fill="none" stroke="#e9e22a" stroke-width="2.7" stroke-linejoin="round" stroke-linecap="round"/>
<path d="M362,1106 L388,1140" stroke="#444" stroke-width="1" stroke-dasharray="2,2"/>
<circle cx="321" cy="1073" r="3" fill="#d0705a" stroke="#9a4a3a" stroke-width="0.6"/>
<polyline points="200.0,1044.7 215.5,1037.7 222.5,1042.0 233.8,1043.3" fill="none" stroke="#c4509e" stroke-width="2.8" stroke-linejoin="round" stroke-linecap="round"/>
<polyline points="233.8,1043.3 236.0,1055.0 235.0,1066.0" fill="none" stroke="#5a48a8" stroke-width="2.8" stroke-linejoin="round" stroke-linecap="round"/>
<polyline points="246.4,1089.7 254.8,1084.0 274.5,1095.3" fill="none" stroke="#c4509e" stroke-width="2.8" stroke-linejoin="round" stroke-linecap="round"/>
<polyline points="298.4,1037.0 312.5,1041.9 323.8,1053.0" fill="none" stroke="#d690c4" stroke-width="2.8" stroke-linejoin="round" stroke-linecap="round"/>
<polyline points="312.5,1041.9 312.5,1033.4" fill="none" stroke="#d690c4" stroke-width="2.8" stroke-linejoin="round" stroke-linecap="round"/>
<polyline points="273.7,1152.7 261.0,1160.0" fill="none" stroke="#c4509e" stroke-width="2.8" stroke-linejoin="round" stroke-linecap="round"/>
<polyline points="261.0,1160.0 250.0,1158.0 240.0,1170.0 243.0,1182.0 254.0,1184.0 264.0,1172.0 261.0,1160.0" fill="none" stroke="#c4509e" stroke-width="2.8" stroke-linejoin="round" stroke-linecap="round"/>
<polyline points="243.0,1182.0 225.8,1190.0 208.6,1181.4" fill="none" stroke="#c4509e" stroke-width="2.8" stroke-linejoin="round" stroke-linecap="round"/>
<polyline points="298.6,1129.8 323.4,1124.0 333.0,1110.0 350.0,1112.0 354.0,1130.0 340.0,1136.0 323.4,1124.0" fill="none" stroke="#d690c4" stroke-width="2.8" stroke-linejoin="round" stroke-linecap="round"/>
<polyline points="396.2,1105.6 408.8,1108.8" fill="none" stroke="#d690c4" stroke-width="2.8" stroke-linejoin="round" stroke-linecap="round"/>
<polyline points="386.6,1135.5 396.2,1156.6 380.9,1175.7 388.5,1188.0 375.0,1196.8 360.0,1192.0 362.0,1181.4 380.9,1175.7" fill="none" stroke="#d690c4" stroke-width="2.8" stroke-linejoin="round" stroke-linecap="round"/>
<polyline points="396.2,1156.6 412.0,1158.0" fill="none" stroke="#5a48a8" stroke-width="2.8" stroke-linejoin="round" stroke-linecap="round"/>
<polyline points="445.2,1112.8 450.3,1102.4 465.9,1099.0 481.4,1080.0 479.7,1068.0" fill="none" stroke="#b8388e" stroke-width="2.8" stroke-linejoin="round" stroke-linecap="round"/>
<polyline points="481.4,1080.0 486.6,1080.0" fill="none" stroke="#b8388e" stroke-width="2.8" stroke-linejoin="round" stroke-linecap="round"/>
<polyline points="496.9,1123.0 493.4,1095.5 500.3,1088.6 509.0,1081.7" fill="none" stroke="#c2489a" stroke-width="2.8" stroke-linejoin="round" stroke-linecap="round"/>
<polyline points="446.9,1154.0 452.0,1140.0 448.6,1123.0 457.2,1130.0 455.0,1150.0 446.9,1154.0" fill="none" stroke="#5a48a8" stroke-width="2.8" stroke-linejoin="round" stroke-linecap="round"/>
<polyline points="446.9,1154.0 436.6,1168.0 436.6,1174.8" fill="none" stroke="#d690c4" stroke-width="2.8" stroke-linejoin="round" stroke-linecap="round"/>
<polyline points="485.7,1038.5 490.7,1021.3 512.8,1016.3 519.0,1004.0" fill="none" stroke="#c4509e" stroke-width="2.8" stroke-linejoin="round" stroke-linecap="round"/>
<polygon points="371.4,1135.5 373.8,1142.3 380.9,1142.4 375.2,1146.7 377.3,1153.6 371.4,1149.5 365.5,1153.6 367.6,1146.7 361.9,1142.4 369.0,1142.3" fill="#e8161a"/>
<polygon points="404.7,1114.6 407.1,1121.4 414.2,1121.5 408.5,1125.8 410.6,1132.7 404.7,1128.6 398.8,1132.7 400.9,1125.8 395.2,1121.5 402.3,1121.4" fill="#e8161a"/>
<text x="205" y="1057" font-family="Liberation Serif" font-weight="bold" font-size="10" fill="#151515">T45</text>
<text x="296" y="1032" font-family="Liberation Serif" font-weight="bold" font-size="10" fill="#151515">T25</text>
<text x="247" y="1081" font-family="Liberation Serif" font-weight="bold" font-size="10" fill="#151515">M49</text>
<text x="324" y="1076.5" font-family="Liberation Serif" font-weight="bold" font-size="10" fill="#151515">w</text>
<text x="246" y="1151.5" font-family="Liberation Serif" font-weight="bold" font-size="10" fill="#151515">Y54</text>
<text x="351" y="1138.5" font-family="Liberation Serif" font-weight="bold" font-size="10" fill="#151515">H41</text>
<text x="411" y="1120.5" font-family="Liberation Serif" font-weight="bold" font-size="10" fill="#151515">C145</text>
<text x="462" y="1111" font-family="Liberation Serif" font-weight="bold" font-size="10" fill="#151515">E166</text>
<text x="503.5" y="1099.5" font-family="Liberation Serif" font-weight="bold" font-size="10" fill="#151515">F140</text>
<text x="462" y="1141" font-family="Liberation Serif" font-weight="bold" font-size="10" fill="#151515">H163</text>
<text x="388" y="1182" font-family="Liberation Serif" font-weight="bold" font-size="10" fill="#151515">H164</text>
<text x="492" y="1034" font-family="Liberation Serif" font-weight="bold" font-size="10" fill="#151515">L141</text>
<text x="269.5" y="1126.5" font-family="Liberation Serif" font-weight="bold" font-size="17" fill="#c0262a">S2</text>
<text x="433" y="1052.5" font-family="Liberation Serif" font-weight="bold" font-size="17" fill="#c0262a">S1</text>
</g>
<rect x="156.2" y="947.5" width="431.2" height="296.2" fill="none" stroke="#151515" stroke-width="1.6" stroke-dasharray="5,3"/>
</svg></body></html>
